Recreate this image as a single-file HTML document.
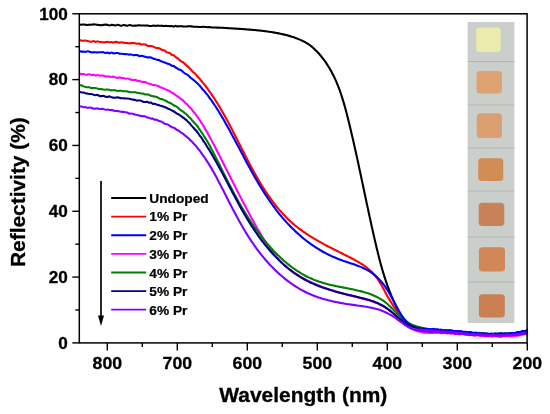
<!DOCTYPE html>
<html><head><meta charset="utf-8"><style>
html,body{margin:0;padding:0;background:#fff;}
body{width:550px;height:414px;overflow:hidden;}
svg{display:block;font-family:"Liberation Sans",sans-serif;font-weight:bold;filter:blur(0.3px);}
</style></head><body>
<svg width="550" height="414" viewBox="0 0 550 414">
<rect width="550" height="414" fill="#fff"/>
<g><rect x="467.6" y="22" width="46.8" height="301" fill="#cacfcc"/>
<line x1="467.6" y1="61.5" x2="514.4" y2="61.5" stroke="#b2b7b4" stroke-width="1"/>
<line x1="467.6" y1="105.0" x2="514.4" y2="105.0" stroke="#b2b7b4" stroke-width="1"/>
<line x1="467.6" y1="148.0" x2="514.4" y2="148.0" stroke="#b2b7b4" stroke-width="1"/>
<line x1="467.6" y1="191.0" x2="514.4" y2="191.0" stroke="#b2b7b4" stroke-width="1"/>
<line x1="467.6" y1="237.0" x2="514.4" y2="237.0" stroke="#b2b7b4" stroke-width="1"/>
<line x1="467.6" y1="282.0" x2="514.4" y2="282.0" stroke="#b2b7b4" stroke-width="1"/>
<rect x="476.2" y="27.4" width="24.6" height="24.6" rx="3.5" fill="#eaebac"/>
<rect x="476.6" y="71.0" width="25.3" height="22.5" rx="3.5" fill="#dea271"/>
<rect x="476.8" y="113.3" width="25.2" height="24.7" rx="3.5" fill="#dca070"/>
<rect x="478.2" y="158.2" width="25.1" height="22.7" rx="3.5" fill="#d28c55"/>
<rect x="478.7" y="202.7" width="25.6" height="23.2" rx="3.5" fill="#c98257"/>
<rect x="478.9" y="247.2" width="26.1" height="24.2" rx="3.5" fill="#d08858"/>
<rect x="478.9" y="294.2" width="25.9" height="23.2" rx="3.5" fill="#c97f52"/></g>
<defs><clipPath id="pc"><rect x="79" y="10" width="448.9" height="332"/></clipPath></defs>
<g fill="none" stroke-width="2.1" stroke-linejoin="round" stroke-linecap="round" clip-path="url(#pc)"><path d="M79.47,24.37 C79.81,24.42 80.81,24.67 81.47,24.68 C82.14,24.69 82.81,24.42 83.48,24.43 C84.14,24.44 84.81,24.64 85.48,24.74 C86.15,24.84 86.81,25.04 87.48,25.03 C88.15,25.02 88.82,24.74 89.48,24.68 C90.15,24.63 90.82,24.75 91.49,24.70 C92.15,24.65 92.82,24.38 93.49,24.36 C94.16,24.34 94.82,24.51 95.49,24.58 C96.16,24.66 96.83,24.76 97.49,24.84 C98.16,24.91 98.83,24.98 99.50,25.04 C100.16,25.10 100.83,25.23 101.50,25.20 C102.17,25.17 102.83,24.95 103.50,24.86 C104.17,24.76 104.84,24.61 105.50,24.61 C106.17,24.61 106.84,24.71 107.51,24.85 C108.17,24.99 108.84,25.45 109.51,25.45 C110.18,25.45 110.84,24.91 111.51,24.86 C112.18,24.80 112.85,24.99 113.51,25.10 C114.18,25.22 114.85,25.62 115.52,25.57 C116.18,25.52 116.85,24.83 117.52,24.79 C118.19,24.75 118.86,25.19 119.52,25.34 C120.19,25.49 120.86,25.73 121.53,25.68 C122.19,25.64 122.86,25.12 123.53,25.07 C124.20,25.02 124.86,25.27 125.53,25.38 C126.20,25.49 126.87,25.79 127.53,25.74 C128.20,25.68 128.87,25.12 129.54,25.07 C130.20,25.02 130.87,25.35 131.54,25.45 C132.21,25.55 132.87,25.65 133.54,25.68 C134.21,25.71 134.88,25.67 135.55,25.64 C136.21,25.60 136.88,25.54 137.55,25.48 C138.22,25.42 138.88,25.26 139.55,25.28 C140.22,25.29 140.89,25.53 141.55,25.56 C142.22,25.60 142.89,25.48 143.56,25.48 C144.22,25.49 144.89,25.60 145.56,25.61 C146.23,25.62 146.89,25.47 147.56,25.54 C148.23,25.60 148.90,25.92 149.56,25.99 C150.23,26.06 150.90,26.03 151.57,25.96 C152.24,25.89 152.90,25.60 153.57,25.58 C154.24,25.57 154.91,25.84 155.57,25.85 C156.24,25.85 156.91,25.62 157.58,25.62 C158.24,25.61 158.91,25.79 159.58,25.81 C160.25,25.83 160.91,25.71 161.58,25.75 C162.25,25.80 162.92,26.05 163.58,26.06 C164.25,26.08 164.92,25.86 165.59,25.84 C166.25,25.83 166.92,25.90 167.59,25.96 C168.26,26.03 168.92,26.23 169.59,26.23 C170.26,26.24 170.93,25.96 171.59,26.00 C172.26,26.04 172.93,26.48 173.60,26.46 C174.26,26.45 174.93,25.91 175.60,25.90 C176.27,25.89 176.93,26.35 177.60,26.40 C178.27,26.45 178.94,26.22 179.60,26.20 C180.27,26.17 180.94,26.21 181.61,26.25 C182.27,26.30 182.94,26.42 183.61,26.45 C184.28,26.48 184.94,26.43 185.61,26.43 C186.28,26.42 186.95,26.45 187.61,26.41 C188.28,26.38 188.95,26.23 189.62,26.22 C190.28,26.21 190.95,26.26 191.62,26.35 C192.29,26.44 192.95,26.70 193.62,26.76 C194.29,26.82 194.96,26.70 195.62,26.72 C196.29,26.74 196.96,26.82 197.62,26.87 C198.29,26.93 198.96,27.03 199.63,27.05 C200.29,27.07 200.96,27.03 201.63,26.99 C202.30,26.95 202.96,26.81 203.63,26.81 C204.30,26.81 204.96,26.94 205.63,27.00 C206.30,27.06 206.97,27.15 207.63,27.18 C208.30,27.20 208.97,27.11 209.63,27.15 C210.30,27.19 210.97,27.38 211.64,27.45 C212.30,27.51 212.97,27.49 213.64,27.52 C214.30,27.54 214.97,27.56 215.64,27.57 C216.30,27.59 216.97,27.56 217.64,27.59 C218.30,27.62 218.97,27.72 219.64,27.75 C220.31,27.77 220.97,27.73 221.64,27.75 C222.31,27.77 222.97,27.84 223.64,27.88 C224.31,27.93 224.97,27.97 225.64,28.01 C226.31,28.05 226.97,28.09 227.64,28.13 C228.31,28.17 228.97,28.20 229.64,28.24 C230.30,28.28 230.97,28.32 231.64,28.36 C232.30,28.40 232.97,28.45 233.64,28.49 C234.30,28.53 234.97,28.57 235.64,28.62 C236.30,28.66 236.97,28.70 237.63,28.75 C238.30,28.79 238.97,28.84 239.63,28.89 C240.30,28.93 240.96,28.98 241.63,29.03 C242.30,29.07 242.96,29.12 243.63,29.17 C244.29,29.22 244.96,29.27 245.63,29.32 C246.29,29.37 246.96,29.42 247.62,29.48 C248.29,29.53 248.95,29.58 249.62,29.64 C250.29,29.69 250.95,29.74 251.62,29.80 C252.28,29.86 252.95,29.91 253.61,29.97 C254.28,30.03 254.94,30.09 255.61,30.15 C256.27,30.21 256.94,30.28 257.60,30.34 C258.27,30.41 258.93,30.47 259.59,30.54 C260.26,30.61 260.92,30.68 261.59,30.76 C262.25,30.83 262.91,30.91 263.58,30.99 C264.24,31.06 264.90,31.15 265.56,31.23 C266.23,31.31 266.89,31.40 267.55,31.49 C268.21,31.58 268.87,31.67 269.53,31.77 C270.19,31.87 270.85,31.97 271.51,32.07 C272.17,32.17 272.83,32.28 273.49,32.39 C274.15,32.50 274.81,32.61 275.46,32.73 C276.12,32.85 276.78,32.97 277.43,33.10 C278.09,33.22 278.74,33.36 279.40,33.49 C280.05,33.63 280.70,33.77 281.36,33.91 C282.01,34.05 282.66,34.20 283.31,34.36 C283.96,34.51 284.61,34.67 285.25,34.84 C285.90,35.00 286.55,35.17 287.19,35.34 C287.84,35.52 288.48,35.70 289.12,35.88 C289.76,36.07 290.40,36.26 291.04,36.46 C291.68,36.66 292.31,36.86 292.95,37.07 C293.58,37.28 294.21,37.49 294.84,37.71 C295.47,37.93 296.10,38.16 296.73,38.39 C297.35,38.63 297.97,38.87 298.59,39.12 C299.21,39.37 299.83,39.62 300.44,39.89 C301.05,40.16 301.66,40.43 302.26,40.72 C302.87,41.01 303.47,41.31 304.06,41.61 C304.65,41.92 305.24,42.24 305.81,42.58 C306.39,42.91 306.97,43.25 307.53,43.61 C308.09,43.97 308.65,44.34 309.19,44.73 C309.74,45.11 310.27,45.51 310.80,45.92 C311.32,46.33 311.84,46.76 312.35,47.19 C312.86,47.62 313.36,48.07 313.85,48.52 C314.34,48.97 314.83,49.43 315.30,49.90 C315.78,50.36 316.25,50.84 316.72,51.31 C317.18,51.79 317.64,52.28 318.09,52.77 C318.55,53.26 319.00,53.75 319.44,54.26 C319.88,54.76 320.31,55.26 320.74,55.77 C321.17,56.29 321.59,56.80 322.01,57.32 C322.43,57.84 322.84,58.37 323.25,58.90 C323.65,59.43 324.05,59.97 324.44,60.51 C324.84,61.05 325.22,61.59 325.60,62.14 C325.99,62.69 326.36,63.24 326.73,63.80 C327.10,64.35 327.46,64.91 327.82,65.48 C328.18,66.04 328.53,66.61 328.88,67.18 C329.22,67.75 329.56,68.32 329.90,68.90 C330.23,69.48 330.56,70.06 330.89,70.64 C331.21,71.23 331.53,71.81 331.84,72.40 C332.16,72.99 332.47,73.58 332.77,74.18 C333.07,74.77 333.37,75.37 333.66,75.97 C333.96,76.57 334.24,77.17 334.53,77.78 C334.81,78.38 335.09,78.99 335.36,79.60 C335.64,80.21 335.91,80.82 336.17,81.43 C336.44,82.04 336.70,82.66 336.96,83.27 C337.21,83.89 337.46,84.51 337.71,85.13 C337.96,85.75 338.20,86.37 338.44,86.99 C338.68,87.62 338.92,88.24 339.15,88.87 C339.39,89.49 339.61,90.12 339.84,90.75 C340.07,91.38 340.29,92.01 340.51,92.64 C340.73,93.27 340.94,93.90 341.15,94.53 C341.36,95.17 341.57,95.80 341.78,96.44 C341.99,97.07 342.19,97.71 342.39,98.34 C342.59,98.98 342.79,99.62 342.98,100.26 C343.18,100.90 343.37,101.53 343.56,102.17 C343.75,102.81 343.94,103.46 344.12,104.10 C344.31,104.74 344.49,105.38 344.67,106.02 C344.85,106.67 345.03,107.31 345.21,107.95 C345.39,108.60 345.56,109.24 345.73,109.89 C345.91,110.53 346.08,111.18 346.25,111.82 C346.42,112.47 346.59,113.11 346.76,113.76 C346.92,114.41 347.09,115.05 347.25,115.70 C347.42,116.35 347.58,116.99 347.74,117.64 C347.91,118.29 348.07,118.94 348.23,119.59 C348.39,120.23 348.55,120.88 348.71,121.53 C348.87,122.18 349.02,122.83 349.18,123.48 C349.34,124.13 349.50,124.77 349.65,125.42 C349.81,126.07 349.96,126.72 350.12,127.37 C350.28,128.02 350.43,128.67 350.58,129.32 C350.74,129.97 350.89,130.62 351.05,131.27 C351.20,131.92 351.35,132.57 351.50,133.22 C351.66,133.87 351.81,134.52 351.96,135.17 C352.11,135.82 352.26,136.47 352.41,137.12 C352.56,137.77 352.71,138.42 352.86,139.07 C353.01,139.72 353.16,140.37 353.31,141.02 C353.46,141.68 353.61,142.33 353.75,142.98 C353.90,143.63 354.05,144.28 354.20,144.93 C354.34,145.58 354.49,146.23 354.63,146.89 C354.78,147.54 354.93,148.19 355.07,148.84 C355.22,149.49 355.36,150.14 355.51,150.80 C355.65,151.45 355.80,152.10 355.94,152.75 C356.08,153.40 356.23,154.06 356.37,154.71 C356.52,155.36 356.66,156.01 356.80,156.66 C356.94,157.32 357.09,157.97 357.23,158.62 C357.37,159.27 357.51,159.93 357.65,160.58 C357.80,161.23 357.94,161.88 358.08,162.54 C358.22,163.19 358.36,163.84 358.50,164.49 C358.64,165.15 358.78,165.80 358.92,166.45 C359.06,167.10 359.20,167.76 359.34,168.41 C359.48,169.06 359.62,169.72 359.76,170.37 C359.90,171.02 360.04,171.67 360.18,172.33 C360.32,172.98 360.46,173.63 360.60,174.29 C360.74,174.94 360.88,175.59 361.02,176.25 C361.15,176.90 361.29,177.55 361.43,178.20 C361.57,178.86 361.71,179.51 361.85,180.16 C361.98,180.82 362.12,181.47 362.26,182.12 C362.40,182.78 362.54,183.43 362.68,184.08 C362.81,184.74 362.95,185.39 363.09,186.04 C363.23,186.70 363.37,187.35 363.50,188.00 C363.64,188.66 363.78,189.31 363.92,189.96 C364.05,190.62 364.19,191.27 364.33,191.92 C364.47,192.58 364.61,193.23 364.74,193.88 C364.88,194.54 365.02,195.19 365.16,195.84 C365.30,196.50 365.44,197.15 365.57,197.80 C365.71,198.46 365.85,199.11 365.99,199.76 C366.13,200.41 366.27,201.07 366.40,201.72 C366.54,202.37 366.68,203.03 366.82,203.68 C366.96,204.33 367.10,204.99 367.24,205.64 C367.38,206.29 367.52,206.95 367.66,207.60 C367.80,208.25 367.94,208.90 368.08,209.56 C368.22,210.21 368.36,210.86 368.50,211.52 C368.64,212.17 368.78,212.82 368.92,213.47 C369.06,214.13 369.20,214.78 369.34,215.43 C369.48,216.08 369.62,216.74 369.76,217.39 C369.91,218.04 370.05,218.69 370.19,219.35 C370.33,220.00 370.48,220.65 370.62,221.30 C370.76,221.96 370.90,222.61 371.05,223.26 C371.19,223.91 371.34,224.56 371.48,225.22 C371.62,225.87 371.77,226.52 371.91,227.17 C372.06,227.82 372.20,228.47 372.35,229.13 C372.49,229.78 372.64,230.43 372.79,231.08 C372.93,231.73 373.08,232.38 373.23,233.03 C373.37,233.69 373.52,234.34 373.67,234.99 C373.82,235.64 373.96,236.29 374.11,236.94 C374.26,237.59 374.41,238.24 374.56,238.89 C374.71,239.54 374.86,240.19 375.01,240.85 C375.16,241.50 375.31,242.15 375.47,242.80 C375.62,243.45 375.77,244.10 375.92,244.75 C376.07,245.40 376.23,246.05 376.38,246.70 C376.54,247.35 376.69,248.00 376.85,248.64 C377.00,249.29 377.16,249.94 377.31,250.59 C377.47,251.24 377.63,251.89 377.79,252.54 C377.95,253.19 378.10,253.84 378.27,254.48 C378.43,255.13 378.59,255.78 378.75,256.43 C378.91,257.07 379.08,257.72 379.24,258.37 C379.41,259.02 379.58,259.66 379.75,260.31 C379.91,260.95 380.08,261.60 380.26,262.24 C380.43,262.89 380.60,263.53 380.77,264.18 C380.95,264.82 381.13,265.47 381.30,266.11 C381.48,266.75 381.66,267.40 381.84,268.04 C382.03,268.68 382.21,269.32 382.40,269.97 C382.58,270.61 382.77,271.25 382.96,271.89 C383.15,272.53 383.34,273.17 383.54,273.81 C383.73,274.44 383.93,275.08 384.13,275.72 C384.33,276.36 384.53,276.99 384.73,277.63 C384.93,278.27 385.14,278.90 385.35,279.53 C385.56,280.17 385.77,280.80 385.98,281.43 C386.20,282.07 386.41,282.70 386.63,283.33 C386.85,283.96 387.08,284.59 387.30,285.22 C387.53,285.85 387.75,286.47 387.98,287.10 C388.22,287.73 388.45,288.35 388.69,288.98 C388.92,289.60 389.16,290.22 389.40,290.85 C389.65,291.47 389.89,292.09 390.14,292.71 C390.39,293.33 390.64,293.95 390.90,294.56 C391.16,295.18 391.41,295.80 391.68,296.41 C391.94,297.02 392.20,297.64 392.47,298.25 C392.74,298.86 393.01,299.47 393.29,300.08 C393.56,300.68 393.84,301.29 394.13,301.90 C394.41,302.50 394.70,303.10 394.98,303.71 C395.27,304.31 395.57,304.91 395.86,305.51 C396.16,306.10 396.46,306.70 396.77,307.29 C397.07,307.89 397.38,308.48 397.69,309.07 C398.01,309.66 398.33,310.25 398.65,310.83 C398.98,311.41 399.31,311.99 399.65,312.56 C400.00,313.14 400.35,313.71 400.71,314.27 C401.07,314.83 401.43,315.39 401.82,315.93 C402.20,316.48 402.59,317.02 403.00,317.55 C403.40,318.08 403.82,318.60 404.25,319.11 C404.68,319.62 405.13,320.12 405.59,320.60 C406.06,321.08 406.53,321.55 407.03,322.00 C407.52,322.44 408.04,322.87 408.56,323.28 C409.09,323.69 409.63,324.08 410.19,324.45 C410.75,324.81 411.32,325.16 411.91,325.48 C412.49,325.80 413.09,326.09 413.70,326.36 C414.31,326.63 414.94,326.88 415.57,327.10 C416.19,327.33 416.83,327.53 417.47,327.71 C418.12,327.89 418.76,328.05 419.42,328.20 C420.07,328.35 420.72,328.48 421.38,328.59 C422.04,328.71 422.70,328.81 423.36,328.91 C424.02,329.00 424.68,329.08 425.35,329.15 C426.01,329.23 426.67,329.29 427.34,329.35 C428.00,329.41 428.67,329.49 429.34,329.50 C430.00,329.51 430.67,329.32 431.34,329.40 C432.00,329.47 432.67,329.91 433.33,329.94 C434.00,329.98 434.67,329.55 435.33,329.61 C436.00,329.67 436.67,330.22 437.33,330.30 C438.00,330.39 438.67,330.19 439.33,330.13 C440.00,330.06 440.67,329.83 441.33,329.92 C442.00,330.01 442.66,330.60 443.33,330.68 C444.00,330.77 444.66,330.41 445.33,330.43 C445.99,330.46 446.66,330.78 447.32,330.85 C447.99,330.93 448.65,330.89 449.32,330.87 C449.99,330.86 450.65,330.73 451.32,330.74 C451.98,330.75 452.65,330.86 453.31,330.93 C453.98,330.99 454.64,331.07 455.31,331.14 C455.97,331.20 456.64,331.28 457.30,331.33 C457.97,331.38 458.63,331.39 459.30,331.44 C459.96,331.48 460.62,331.45 461.29,331.62 C461.95,331.78 462.62,332.36 463.28,332.43 C463.95,332.50 464.61,332.00 465.28,332.01 C465.94,332.02 466.61,332.42 467.27,332.49 C467.94,332.55 468.60,332.37 469.27,332.39 C469.93,332.41 470.60,332.50 471.26,332.63 C471.93,332.76 472.60,333.04 473.26,333.18 C473.93,333.32 474.59,333.44 475.26,333.46 C475.92,333.48 476.59,333.34 477.25,333.28 C477.92,333.22 478.59,332.99 479.25,333.10 C479.92,333.21 480.59,333.88 481.25,333.93 C481.92,333.98 482.58,333.42 483.25,333.39 C483.92,333.36 484.58,333.64 485.25,333.74 C485.92,333.83 486.58,333.85 487.25,333.94 C487.92,334.03 488.59,334.21 489.25,334.27 C489.92,334.33 490.59,334.30 491.25,334.29 C491.92,334.28 492.59,334.23 493.26,334.19 C493.92,334.16 494.59,334.04 495.26,334.08 C495.93,334.11 496.59,334.34 497.26,334.40 C497.93,334.46 498.60,334.42 499.27,334.42 C499.93,334.42 500.60,334.43 501.27,334.40 C501.94,334.37 502.60,334.36 503.27,334.25 C503.94,334.14 504.61,333.82 505.27,333.75 C505.94,333.67 506.61,333.78 507.27,333.80 C507.94,333.81 508.61,333.83 509.27,333.81 C509.94,333.79 510.61,333.70 511.27,333.69 C511.94,333.68 512.60,333.84 513.27,333.75 C513.93,333.66 514.60,333.23 515.26,333.14 C515.93,333.05 516.59,333.28 517.25,333.22 C517.92,333.16 518.58,332.84 519.24,332.77 C519.90,332.70 520.56,332.89 521.22,332.78 C521.88,332.66 522.54,332.21 523.20,332.06 C523.86,331.92 524.52,332.05 525.18,331.92 C525.84,331.80 526.82,331.40 527.15,331.30" stroke="#000000"/>
<path d="M79.78,73.69 C80.11,73.80 81.11,74.26 81.77,74.30 C82.44,74.35 83.10,73.89 83.77,73.96 C84.43,74.02 85.10,74.58 85.76,74.68 C86.43,74.77 87.09,74.60 87.76,74.54 C88.42,74.47 89.09,74.19 89.75,74.29 C90.42,74.39 91.08,75.09 91.75,75.15 C92.41,75.22 93.08,74.60 93.75,74.67 C94.41,74.73 95.08,75.49 95.74,75.55 C96.41,75.60 97.07,74.95 97.74,74.99 C98.41,75.03 99.07,75.69 99.74,75.77 C100.40,75.86 101.07,75.49 101.73,75.50 C102.40,75.51 103.06,75.66 103.73,75.85 C104.39,76.03 105.06,76.50 105.72,76.59 C106.39,76.67 107.06,76.34 107.72,76.36 C108.39,76.39 109.05,76.61 109.71,76.72 C110.38,76.83 111.04,77.02 111.71,77.01 C112.37,77.00 113.04,76.57 113.70,76.66 C114.37,76.75 115.03,77.34 115.69,77.54 C116.36,77.74 117.02,77.87 117.68,77.85 C118.35,77.83 119.01,77.39 119.67,77.42 C120.34,77.44 121.00,77.92 121.66,78.03 C122.32,78.14 122.99,77.94 123.65,78.07 C124.31,78.19 124.97,78.70 125.63,78.76 C126.29,78.82 126.95,78.36 127.61,78.43 C128.27,78.49 128.93,78.96 129.59,79.18 C130.25,79.40 130.91,79.62 131.57,79.77 C132.23,79.91 132.89,80.05 133.54,80.07 C134.20,80.08 134.86,79.73 135.52,79.87 C136.17,80.01 136.83,80.76 137.48,80.92 C138.14,81.07 138.79,80.66 139.44,80.79 C140.10,80.93 140.75,81.55 141.40,81.74 C142.05,81.93 142.70,81.86 143.35,81.92 C144.00,81.98 144.65,81.90 145.30,82.10 C145.95,82.30 146.59,82.85 147.24,83.12 C147.88,83.39 148.53,83.54 149.17,83.72 C149.81,83.90 150.46,83.97 151.10,84.18 C151.74,84.40 152.38,84.88 153.01,85.02 C153.65,85.15 154.28,84.90 154.92,85.00 C155.55,85.10 156.18,85.43 156.81,85.64 C157.44,85.85 158.07,85.97 158.70,86.25 C159.32,86.53 159.94,87.04 160.57,87.32 C161.19,87.61 161.80,87.73 162.42,87.96 C163.04,88.19 163.65,88.44 164.26,88.72 C164.87,89.00 165.48,89.38 166.08,89.65 C166.68,89.92 167.29,90.13 167.88,90.36 C168.48,90.59 169.07,90.69 169.66,91.04 C170.25,91.38 170.84,92.05 171.42,92.42 C172.00,92.80 172.58,92.93 173.15,93.27 C173.73,93.61 174.30,94.02 174.86,94.47 C175.42,94.92 175.98,95.62 176.54,95.96 C177.09,96.30 177.64,96.16 178.18,96.51 C178.72,96.86 179.26,97.59 179.79,98.06 C180.32,98.53 180.84,98.93 181.36,99.31 C181.88,99.69 182.39,99.92 182.90,100.34 C183.40,100.75 183.90,101.27 184.40,101.80 C184.89,102.33 185.38,103.05 185.86,103.50 C186.34,103.95 186.81,104.06 187.28,104.50 C187.75,104.95 188.22,105.64 188.68,106.18 C189.13,106.71 189.59,107.26 190.03,107.72 C190.48,108.19 190.92,108.43 191.36,108.95 C191.79,109.46 192.22,110.29 192.65,110.83 C193.07,111.37 193.49,111.71 193.91,112.19 C194.33,112.66 194.74,113.16 195.14,113.70 C195.55,114.24 195.95,114.88 196.34,115.41 C196.74,115.95 197.13,116.35 197.52,116.89 C197.91,117.44 198.29,118.13 198.67,118.67 C199.05,119.21 199.42,119.56 199.80,120.13 C200.17,120.70 200.53,121.51 200.90,122.09 C201.26,122.67 201.62,123.10 201.98,123.61 C202.34,124.13 202.69,124.63 203.04,125.19 C203.39,125.75 203.74,126.37 204.08,126.98 C204.43,127.60 204.77,128.28 205.11,128.88 C205.45,129.48 205.78,130.02 206.12,130.57 C206.45,131.13 206.78,131.64 207.11,132.20 C207.44,132.75 207.77,133.33 208.09,133.91 C208.42,134.48 208.74,135.05 209.06,135.67 C209.38,136.29 209.70,137.04 210.02,137.61 C210.34,138.19 210.65,138.54 210.97,139.13 C211.28,139.71 211.59,140.49 211.91,141.11 C212.22,141.74 212.53,142.31 212.84,142.87 C213.15,143.44 213.46,143.92 213.77,144.49 C214.08,145.06 214.39,145.70 214.69,146.30 C215.00,146.91 215.31,147.52 215.61,148.13 C215.92,148.74 216.23,149.36 216.53,149.96 C216.84,150.57 217.14,151.17 217.45,151.77 C217.75,152.37 218.06,152.98 218.36,153.56 C218.67,154.13 218.97,154.65 219.27,155.22 C219.58,155.79 219.88,156.40 220.18,157.00 C220.49,157.60 220.79,158.22 221.09,158.83 C221.40,159.43 221.70,160.03 222.00,160.62 C222.30,161.22 222.60,161.83 222.91,162.42 C223.21,163.01 223.51,163.56 223.81,164.16 C224.11,164.75 224.41,165.39 224.71,166.00 C225.01,166.60 225.32,167.21 225.62,167.80 C225.92,168.40 226.22,168.99 226.52,169.59 C226.82,170.18 227.12,170.78 227.42,171.37 C227.72,171.97 228.02,172.56 228.32,173.16 C228.62,173.75 228.92,174.35 229.22,174.94 C229.52,175.54 229.82,176.13 230.12,176.73 C230.43,177.33 230.73,177.92 231.03,178.52 C231.33,179.12 231.63,179.71 231.93,180.31 C232.23,180.91 232.53,181.50 232.83,182.10 C233.13,182.70 233.44,183.29 233.74,183.89 C234.04,184.49 234.34,185.08 234.64,185.68 C234.94,186.28 235.25,186.87 235.55,187.47 C235.85,188.06 236.15,188.66 236.46,189.25 C236.76,189.85 237.06,190.45 237.37,191.04 C237.67,191.64 237.98,192.23 238.28,192.83 C238.58,193.42 238.89,194.02 239.19,194.61 C239.50,195.21 239.81,195.80 240.11,196.39 C240.42,196.99 240.72,197.58 241.03,198.18 C241.34,198.77 241.64,199.36 241.95,199.96 C242.26,200.55 242.57,201.14 242.88,201.74 C243.19,202.33 243.50,202.92 243.81,203.51 C244.11,204.11 244.43,204.70 244.74,205.29 C245.05,205.88 245.36,206.47 245.67,207.06 C245.98,207.65 246.30,208.24 246.61,208.83 C246.92,209.42 247.24,210.01 247.55,210.60 C247.87,211.19 248.18,211.78 248.50,212.37 C248.81,212.96 249.13,213.55 249.45,214.14 C249.77,214.73 250.08,215.31 250.40,215.90 C250.72,216.49 251.04,217.07 251.36,217.66 C251.68,218.25 252.00,218.83 252.33,219.42 C252.65,220.00 252.97,220.59 253.29,221.17 C253.62,221.76 253.94,222.34 254.27,222.93 C254.59,223.51 254.92,224.09 255.25,224.68 C255.57,225.26 255.90,225.84 256.23,226.42 C256.56,227.01 256.89,227.59 257.22,228.17 C257.55,228.75 257.88,229.33 258.22,229.91 C258.55,230.49 258.88,231.07 259.22,231.64 C259.55,232.22 259.89,232.80 260.23,233.38 C260.57,233.95 260.91,234.53 261.25,235.10 C261.59,235.68 261.93,236.25 262.28,236.82 C262.62,237.40 262.97,237.97 263.32,238.54 C263.67,239.11 264.02,239.67 264.38,240.24 C264.73,240.81 265.09,241.37 265.45,241.93 C265.81,242.50 266.17,243.06 266.54,243.62 C266.91,244.17 267.28,244.73 267.65,245.29 C268.02,245.84 268.40,246.39 268.78,246.94 C269.16,247.49 269.55,248.04 269.93,248.58 C270.32,249.13 270.71,249.67 271.11,250.21 C271.51,250.74 271.91,251.28 272.31,251.81 C272.71,252.34 273.12,252.87 273.54,253.40 C273.95,253.92 274.37,254.44 274.79,254.96 C275.22,255.48 275.64,255.99 276.08,256.50 C276.51,257.01 276.95,257.51 277.39,258.01 C277.83,258.51 278.28,259.01 278.74,259.50 C279.19,259.99 279.65,260.48 280.12,260.96 C280.58,261.44 281.05,261.91 281.53,262.38 C282.01,262.85 282.49,263.31 282.98,263.77 C283.46,264.22 283.96,264.68 284.45,265.12 C284.95,265.57 285.46,266.00 285.97,266.44 C286.47,266.87 286.99,267.30 287.51,267.72 C288.02,268.14 288.55,268.56 289.07,268.97 C289.60,269.38 290.13,269.79 290.67,270.19 C291.20,270.59 291.74,270.98 292.29,271.37 C292.83,271.76 293.38,272.14 293.93,272.52 C294.48,272.90 295.04,273.27 295.60,273.64 C296.15,274.00 296.72,274.36 297.28,274.72 C297.85,275.08 298.41,275.43 298.99,275.78 C299.56,276.12 300.13,276.47 300.71,276.80 C301.29,277.14 301.87,277.47 302.45,277.80 C303.03,278.13 303.62,278.45 304.20,278.77 C304.79,279.09 305.38,279.40 305.97,279.71 C306.57,280.02 307.16,280.32 307.76,280.62 C308.36,280.92 308.96,281.22 309.56,281.51 C310.16,281.80 310.76,282.09 311.37,282.37 C311.97,282.65 312.58,282.93 313.19,283.21 C313.80,283.48 314.41,283.75 315.02,284.02 C315.64,284.28 316.25,284.55 316.87,284.81 C317.48,285.07 318.10,285.32 318.72,285.57 C319.34,285.82 319.96,286.07 320.58,286.32 C321.20,286.56 321.83,286.80 322.45,287.04 C323.08,287.28 323.70,287.51 324.33,287.74 C324.96,287.97 325.59,288.20 326.22,288.42 C326.85,288.65 327.48,288.87 328.11,289.08 C328.74,289.30 329.37,289.52 330.01,289.73 C330.64,289.94 331.28,290.15 331.91,290.35 C332.55,290.56 333.19,290.76 333.82,290.96 C334.46,291.16 335.10,291.36 335.74,291.55 C336.38,291.74 337.02,291.94 337.66,292.13 C338.30,292.31 338.94,292.50 339.59,292.69 C340.23,292.87 340.87,293.05 341.51,293.23 C342.16,293.41 342.80,293.59 343.45,293.77 C344.09,293.94 344.74,294.12 345.38,294.29 C346.03,294.46 346.67,294.63 347.32,294.80 C347.97,294.97 348.61,295.14 349.26,295.30 C349.91,295.47 350.56,295.63 351.21,295.79 C351.85,295.96 352.50,296.12 353.15,296.28 C353.80,296.44 354.45,296.60 355.10,296.76 C355.75,296.92 356.40,297.07 357.05,297.23 C357.70,297.39 358.34,297.55 358.99,297.71 C359.64,297.87 360.29,298.03 360.94,298.20 C361.59,298.36 362.23,298.52 362.88,298.69 C363.53,298.86 364.17,299.03 364.82,299.20 C365.47,299.38 366.11,299.56 366.75,299.74 C367.40,299.92 368.04,300.10 368.68,300.30 C369.32,300.49 369.96,300.68 370.60,300.88 C371.23,301.08 371.87,301.29 372.50,301.51 C373.13,301.72 373.77,301.94 374.39,302.17 C375.02,302.40 375.65,302.63 376.27,302.87 C376.89,303.12 377.51,303.37 378.13,303.63 C378.74,303.89 379.36,304.16 379.96,304.44 C380.57,304.72 381.17,305.00 381.77,305.30 C382.37,305.60 382.96,305.91 383.55,306.23 C384.13,306.55 384.71,306.88 385.29,307.23 C385.86,307.57 386.43,307.93 386.99,308.29 C387.55,308.65 388.10,309.03 388.65,309.41 C389.19,309.80 389.73,310.19 390.27,310.59 C390.80,311.00 391.33,311.41 391.85,311.82 C392.38,312.24 392.89,312.66 393.41,313.09 C393.92,313.52 394.42,313.96 394.93,314.40 C395.43,314.84 395.93,315.28 396.42,315.73 C396.92,316.18 397.41,316.64 397.89,317.09 C398.38,317.55 398.87,318.01 399.35,318.48 C399.83,318.94 400.31,319.41 400.79,319.87 C401.26,320.34 401.74,320.81 402.22,321.28 C402.70,321.74 403.18,322.21 403.67,322.66 C404.15,323.12 404.65,323.57 405.15,324.01 C405.65,324.45 406.16,324.88 406.69,325.30 C407.21,325.71 407.75,326.11 408.30,326.49 C408.84,326.88 409.40,327.24 409.97,327.60 C410.54,327.95 411.12,328.28 411.71,328.60 C412.30,328.91 412.89,329.21 413.50,329.50 C414.11,329.78 414.72,330.04 415.34,330.29 C415.96,330.53 416.59,330.76 417.23,330.97 C417.86,331.18 418.50,331.37 419.15,331.54 C419.79,331.72 420.44,331.87 421.10,332.01 C421.75,332.14 422.41,332.26 423.07,332.36 C423.73,332.46 424.40,332.54 425.06,332.61 C425.72,332.68 426.39,332.73 427.06,332.77 C427.73,332.80 428.39,332.84 429.06,332.85 C429.73,332.86 430.40,332.83 431.07,332.84 C431.74,332.85 432.40,332.93 433.07,332.91 C433.74,332.90 434.41,332.76 435.08,332.75 C435.74,332.75 436.41,332.88 437.08,332.88 C437.75,332.88 438.42,332.68 439.09,332.74 C439.75,332.79 440.42,333.13 441.09,333.19 C441.76,333.25 442.43,333.11 443.09,333.08 C443.76,333.05 444.43,332.96 445.10,333.01 C445.76,333.05 446.43,333.30 447.10,333.34 C447.77,333.38 448.43,333.24 449.10,333.25 C449.77,333.26 450.44,333.40 451.10,333.43 C451.77,333.46 452.44,333.34 453.10,333.44 C453.77,333.54 454.44,333.97 455.10,334.03 C455.77,334.09 456.44,333.75 457.10,333.82 C457.77,333.89 458.44,334.37 459.10,334.44 C459.77,334.50 460.44,334.25 461.10,334.20 C461.77,334.16 462.44,334.09 463.10,334.18 C463.77,334.27 464.43,334.60 465.10,334.72 C465.77,334.84 466.43,334.83 467.10,334.90 C467.77,334.97 468.43,335.18 469.10,335.16 C469.76,335.14 470.43,334.75 471.10,334.79 C471.76,334.84 472.43,335.27 473.10,335.41 C473.76,335.55 474.43,335.62 475.10,335.61 C475.76,335.61 476.43,335.37 477.09,335.38 C477.76,335.38 478.43,335.54 479.09,335.63 C479.76,335.71 480.43,335.86 481.09,335.88 C481.76,335.91 482.43,335.68 483.09,335.76 C483.76,335.83 484.43,336.23 485.10,336.32 C485.76,336.41 486.43,336.28 487.10,336.32 C487.76,336.35 488.43,336.53 489.10,336.53 C489.77,336.54 490.43,336.35 491.10,336.34 C491.77,336.33 492.44,336.47 493.11,336.47 C493.77,336.46 494.44,336.31 495.11,336.30 C495.78,336.29 496.45,336.35 497.11,336.43 C497.78,336.50 498.45,336.66 499.12,336.74 C499.79,336.82 500.46,336.98 501.12,336.90 C501.79,336.83 502.46,336.44 503.13,336.32 C503.80,336.20 504.47,336.23 505.13,336.20 C505.80,336.17 506.47,336.12 507.14,336.14 C507.80,336.16 508.47,336.25 509.14,336.30 C509.81,336.34 510.47,336.49 511.14,336.42 C511.81,336.34 512.47,335.95 513.14,335.86 C513.80,335.76 514.47,335.87 515.13,335.84 C515.80,335.80 516.46,335.67 517.13,335.63 C517.79,335.59 518.45,335.72 519.11,335.59 C519.77,335.45 520.43,335.01 521.09,334.81 C521.75,334.60 522.41,334.44 523.07,334.35 C523.72,334.27 524.38,334.40 525.03,334.31 C525.69,334.21 526.67,333.86 526.99,333.77" stroke="#ff00ff"/>
<path d="M79.53,40.06 C79.86,40.15 80.85,40.48 81.52,40.59 C82.18,40.71 82.84,40.79 83.50,40.77 C84.17,40.75 84.83,40.40 85.50,40.45 C86.16,40.51 86.82,40.90 87.49,41.07 C88.15,41.24 88.82,41.36 89.49,41.47 C90.15,41.58 90.82,41.80 91.48,41.73 C92.15,41.66 92.82,41.02 93.48,41.05 C94.15,41.07 94.82,41.85 95.48,41.89 C96.15,41.94 96.82,41.30 97.48,41.31 C98.15,41.32 98.82,41.86 99.49,41.98 C100.15,42.09 100.82,41.92 101.49,41.98 C102.16,42.05 102.82,42.35 103.49,42.38 C104.16,42.40 104.83,42.27 105.49,42.15 C106.16,42.04 106.83,41.69 107.50,41.71 C108.16,41.74 108.83,42.26 109.50,42.31 C110.17,42.36 110.83,41.95 111.50,42.00 C112.17,42.04 112.84,42.59 113.51,42.58 C114.17,42.56 114.84,41.97 115.51,41.92 C116.18,41.87 116.84,42.13 117.51,42.25 C118.18,42.37 118.85,42.64 119.51,42.65 C120.18,42.65 120.85,42.24 121.52,42.26 C122.18,42.29 122.85,42.68 123.52,42.80 C124.18,42.91 124.85,42.90 125.52,42.95 C126.19,43.00 126.85,43.04 127.52,43.11 C128.19,43.18 128.85,43.37 129.52,43.37 C130.18,43.38 130.85,43.17 131.52,43.12 C132.18,43.06 132.85,43.01 133.51,43.05 C134.18,43.09 134.84,43.25 135.51,43.36 C136.17,43.47 136.83,43.65 137.50,43.70 C138.16,43.75 138.82,43.52 139.48,43.65 C140.15,43.79 140.81,44.42 141.47,44.52 C142.13,44.62 142.79,44.24 143.45,44.26 C144.11,44.27 144.76,44.35 145.42,44.60 C146.08,44.85 146.73,45.52 147.39,45.77 C148.04,46.02 148.70,46.03 149.35,46.08 C150.00,46.12 150.65,45.95 151.30,46.04 C151.95,46.13 152.59,46.36 153.24,46.62 C153.88,46.88 154.52,47.38 155.16,47.61 C155.80,47.84 156.44,47.89 157.08,48.01 C157.71,48.14 158.35,48.14 158.98,48.34 C159.61,48.53 160.23,48.87 160.86,49.19 C161.48,49.52 162.10,50.11 162.72,50.30 C163.34,50.49 163.95,50.03 164.56,50.33 C165.17,50.62 165.77,51.69 166.38,52.07 C166.98,52.44 167.57,52.40 168.17,52.58 C168.76,52.77 169.34,52.83 169.93,53.19 C170.51,53.55 171.09,54.41 171.66,54.74 C172.24,55.07 172.81,54.86 173.37,55.16 C173.94,55.46 174.50,56.10 175.06,56.54 C175.61,56.98 176.16,57.44 176.71,57.80 C177.26,58.16 177.80,58.28 178.34,58.71 C178.88,59.14 179.42,59.93 179.95,60.39 C180.48,60.85 181.01,61.15 181.53,61.47 C182.06,61.80 182.58,61.99 183.09,62.35 C183.61,62.71 184.12,63.22 184.63,63.64 C185.14,64.07 185.64,64.41 186.14,64.90 C186.64,65.39 187.14,66.11 187.63,66.57 C188.13,67.04 188.62,67.24 189.11,67.70 C189.59,68.15 190.08,68.77 190.56,69.29 C191.04,69.82 191.52,70.35 191.99,70.85 C192.46,71.35 192.93,71.89 193.40,72.30 C193.87,72.71 194.33,72.90 194.79,73.33 C195.25,73.77 195.71,74.39 196.17,74.91 C196.62,75.43 197.07,75.93 197.52,76.43 C197.97,76.93 198.41,77.41 198.85,77.92 C199.29,78.42 199.73,78.93 200.16,79.45 C200.60,79.96 201.03,80.46 201.46,81.00 C201.89,81.53 202.31,82.16 202.73,82.67 C203.15,83.17 203.57,83.55 203.99,84.05 C204.40,84.54 204.82,85.11 205.22,85.64 C205.63,86.18 206.04,86.73 206.44,87.25 C206.85,87.77 207.25,88.23 207.64,88.78 C208.04,89.33 208.43,90.00 208.82,90.55 C209.22,91.11 209.60,91.56 209.99,92.11 C210.38,92.67 210.76,93.34 211.14,93.90 C211.52,94.47 211.90,95.00 212.27,95.53 C212.65,96.05 213.02,96.50 213.39,97.04 C213.76,97.57 214.12,98.14 214.49,98.72 C214.85,99.30 215.21,99.95 215.57,100.52 C215.93,101.10 216.29,101.63 216.64,102.17 C217.00,102.71 217.35,103.20 217.70,103.77 C218.05,104.34 218.40,105.01 218.75,105.59 C219.09,106.17 219.44,106.69 219.78,107.27 C220.12,107.85 220.46,108.47 220.80,109.05 C221.13,109.64 221.47,110.20 221.80,110.77 C222.14,111.35 222.47,111.95 222.80,112.53 C223.13,113.11 223.46,113.67 223.79,114.25 C224.12,114.83 224.44,115.43 224.77,116.01 C225.09,116.59 225.41,117.14 225.73,117.72 C226.06,118.30 226.37,118.90 226.69,119.48 C227.01,120.07 227.33,120.65 227.65,121.24 C227.96,121.83 228.28,122.44 228.59,123.03 C228.90,123.62 229.22,124.20 229.53,124.79 C229.84,125.38 230.15,125.97 230.46,126.57 C230.77,127.16 231.08,127.75 231.39,128.34 C231.69,128.94 232.00,129.53 232.31,130.12 C232.61,130.72 232.92,131.31 233.22,131.90 C233.53,132.50 233.83,133.09 234.14,133.69 C234.44,134.28 234.74,134.88 235.05,135.47 C235.35,136.07 235.65,136.66 235.96,137.26 C236.26,137.86 236.56,138.45 236.86,139.05 C237.16,139.64 237.46,140.24 237.77,140.84 C238.07,141.43 238.37,142.03 238.67,142.63 C238.97,143.22 239.27,143.82 239.57,144.41 C239.87,145.01 240.17,145.61 240.47,146.20 C240.78,146.80 241.08,147.40 241.38,147.99 C241.68,148.59 241.98,149.18 242.28,149.78 C242.58,150.38 242.89,150.97 243.19,151.57 C243.49,152.16 243.80,152.76 244.10,153.35 C244.40,153.95 244.71,154.54 245.01,155.14 C245.32,155.73 245.62,156.33 245.93,156.92 C246.23,157.51 246.54,158.11 246.85,158.70 C247.15,159.29 247.46,159.89 247.77,160.48 C248.08,161.07 248.39,161.66 248.70,162.25 C249.01,162.85 249.32,163.44 249.63,164.03 C249.94,164.62 250.26,165.21 250.57,165.80 C250.89,166.39 251.20,166.98 251.52,167.56 C251.84,168.15 252.15,168.74 252.47,169.33 C252.79,169.91 253.11,170.50 253.43,171.08 C253.76,171.67 254.08,172.25 254.40,172.84 C254.73,173.42 255.05,174.00 255.38,174.59 C255.71,175.17 256.04,175.75 256.37,176.33 C256.70,176.91 257.03,177.49 257.37,178.07 C257.70,178.65 258.04,179.22 258.38,179.80 C258.71,180.38 259.05,180.95 259.40,181.52 C259.74,182.10 260.08,182.67 260.43,183.24 C260.77,183.81 261.12,184.39 261.47,184.95 C261.82,185.52 262.17,186.09 262.53,186.66 C262.88,187.22 263.24,187.79 263.59,188.35 C263.95,188.92 264.31,189.48 264.68,190.04 C265.04,190.60 265.41,191.16 265.77,191.72 C266.14,192.27 266.51,192.83 266.89,193.38 C267.26,193.94 267.64,194.49 268.01,195.04 C268.39,195.59 268.77,196.14 269.16,196.69 C269.54,197.23 269.93,197.78 270.32,198.32 C270.71,198.86 271.10,199.40 271.49,199.94 C271.89,200.48 272.29,201.02 272.69,201.55 C273.09,202.09 273.49,202.62 273.90,203.15 C274.31,203.68 274.72,204.20 275.13,204.73 C275.54,205.25 275.96,205.78 276.38,206.30 C276.80,206.82 277.22,207.33 277.65,207.85 C278.07,208.36 278.50,208.87 278.94,209.38 C279.37,209.89 279.81,210.40 280.25,210.90 C280.69,211.40 281.13,211.90 281.58,212.40 C282.02,212.89 282.47,213.39 282.93,213.88 C283.38,214.37 283.84,214.86 284.30,215.34 C284.76,215.82 285.22,216.30 285.69,216.78 C286.16,217.26 286.63,217.73 287.11,218.20 C287.58,218.67 288.06,219.13 288.54,219.60 C289.03,220.06 289.51,220.52 290.00,220.97 C290.49,221.42 290.99,221.87 291.48,222.32 C291.98,222.77 292.48,223.21 292.99,223.64 C293.49,224.08 294.00,224.51 294.51,224.94 C295.02,225.37 295.54,225.80 296.06,226.22 C296.58,226.64 297.10,227.05 297.63,227.46 C298.15,227.87 298.68,228.28 299.22,228.68 C299.75,229.09 300.29,229.49 300.82,229.88 C301.36,230.28 301.90,230.67 302.45,231.06 C302.99,231.44 303.54,231.83 304.09,232.21 C304.64,232.59 305.19,232.96 305.75,233.33 C306.30,233.71 306.86,234.08 307.41,234.44 C307.97,234.81 308.53,235.17 309.10,235.53 C309.66,235.89 310.23,236.25 310.79,236.60 C311.36,236.95 311.93,237.30 312.50,237.65 C313.07,238.00 313.64,238.34 314.22,238.68 C314.79,239.03 315.37,239.36 315.94,239.70 C316.52,240.04 317.10,240.37 317.68,240.70 C318.26,241.04 318.84,241.36 319.42,241.69 C320.00,242.02 320.59,242.34 321.17,242.67 C321.76,242.99 322.34,243.31 322.93,243.63 C323.52,243.95 324.10,244.27 324.69,244.58 C325.28,244.90 325.87,245.21 326.46,245.52 C327.05,245.84 327.64,246.15 328.23,246.46 C328.83,246.77 329.42,247.07 330.01,247.38 C330.61,247.69 331.20,247.99 331.79,248.30 C332.39,248.60 332.98,248.91 333.58,249.21 C334.18,249.51 334.77,249.81 335.37,250.11 C335.96,250.41 336.56,250.71 337.16,251.01 C337.75,251.31 338.35,251.61 338.95,251.91 C339.55,252.21 340.14,252.51 340.74,252.81 C341.34,253.10 341.94,253.40 342.54,253.70 C343.13,254.00 343.73,254.30 344.33,254.59 C344.93,254.89 345.53,255.19 346.12,255.49 C346.72,255.79 347.32,256.08 347.92,256.38 C348.51,256.69 349.11,256.99 349.70,257.29 C350.30,257.59 350.89,257.90 351.48,258.21 C352.08,258.52 352.67,258.83 353.26,259.14 C353.85,259.46 354.44,259.77 355.02,260.09 C355.61,260.42 356.19,260.74 356.77,261.07 C357.35,261.40 357.93,261.74 358.50,262.08 C359.08,262.42 359.65,262.76 360.22,263.12 C360.78,263.47 361.35,263.83 361.91,264.19 C362.47,264.56 363.02,264.93 363.57,265.31 C364.12,265.68 364.67,266.07 365.21,266.46 C365.75,266.86 366.28,267.26 366.81,267.67 C367.34,268.08 367.86,268.50 368.37,268.93 C368.88,269.35 369.39,269.79 369.89,270.24 C370.38,270.68 370.88,271.14 371.36,271.60 C371.84,272.06 372.31,272.54 372.77,273.02 C373.23,273.50 373.68,273.99 374.13,274.49 C374.57,275.00 375.00,275.51 375.42,276.03 C375.84,276.55 376.25,277.07 376.64,277.61 C377.04,278.15 377.43,278.69 377.80,279.25 C378.18,279.80 378.55,280.36 378.91,280.92 C379.26,281.48 379.61,282.05 379.96,282.62 C380.30,283.19 380.64,283.77 380.98,284.35 C381.31,284.93 381.64,285.51 381.96,286.09 C382.29,286.68 382.61,287.26 382.93,287.85 C383.24,288.44 383.56,289.03 383.88,289.62 C384.19,290.20 384.51,290.79 384.82,291.38 C385.14,291.97 385.45,292.56 385.77,293.15 C386.09,293.73 386.41,294.32 386.73,294.91 C387.05,295.49 387.38,296.07 387.71,296.66 C388.04,297.24 388.37,297.81 388.71,298.39 C389.05,298.97 389.39,299.54 389.73,300.11 C390.08,300.69 390.43,301.26 390.78,301.82 C391.14,302.39 391.49,302.95 391.85,303.51 C392.22,304.08 392.58,304.64 392.95,305.19 C393.32,305.75 393.70,306.30 394.08,306.85 C394.46,307.40 394.84,307.95 395.23,308.49 C395.62,309.03 396.01,309.57 396.41,310.11 C396.81,310.65 397.21,311.18 397.62,311.71 C398.02,312.24 398.44,312.76 398.85,313.29 C399.27,313.81 399.69,314.33 400.12,314.84 C400.54,315.35 400.98,315.86 401.41,316.37 C401.85,316.88 402.29,317.38 402.73,317.88 C403.18,318.37 403.63,318.87 404.08,319.36 C404.54,319.85 404.99,320.34 405.46,320.81 C405.93,321.29 406.40,321.76 406.89,322.22 C407.38,322.67 407.87,323.12 408.39,323.55 C408.90,323.97 409.43,324.39 409.97,324.77 C410.52,325.16 411.08,325.52 411.66,325.85 C412.24,326.18 412.84,326.48 413.46,326.74 C414.07,327.00 414.70,327.22 415.34,327.42 C415.98,327.61 416.63,327.77 417.28,327.92 C417.93,328.06 418.59,328.17 419.25,328.28 C419.91,328.38 420.58,328.47 421.24,328.55 C421.90,328.63 422.57,328.69 423.23,328.76 C423.90,328.82 424.56,328.88 425.23,328.94 C425.89,329.00 426.56,329.06 427.22,329.13 C427.89,329.19 428.55,329.22 429.22,329.32 C429.88,329.41 430.55,329.66 431.21,329.72 C431.88,329.78 432.54,329.64 433.21,329.67 C433.87,329.71 434.54,329.88 435.20,329.92 C435.87,329.97 436.53,329.93 437.20,329.97 C437.86,330.00 438.52,330.06 439.19,330.15 C439.85,330.25 440.52,330.41 441.18,330.53 C441.85,330.64 442.51,330.83 443.18,330.85 C443.84,330.87 444.51,330.62 445.17,330.65 C445.84,330.68 446.50,330.90 447.17,331.01 C447.83,331.13 448.50,331.22 449.16,331.34 C449.83,331.46 450.49,331.73 451.16,331.74 C451.83,331.76 452.49,331.44 453.16,331.43 C453.82,331.42 454.49,331.59 455.15,331.68 C455.82,331.77 456.49,331.94 457.15,331.96 C457.82,331.98 458.48,331.75 459.15,331.81 C459.82,331.86 460.48,332.13 461.15,332.28 C461.82,332.42 462.48,332.66 463.15,332.67 C463.82,332.67 464.48,332.32 465.15,332.31 C465.81,332.30 466.48,332.56 467.15,332.58 C467.81,332.61 468.48,332.41 469.15,332.45 C469.81,332.50 470.48,332.72 471.15,332.86 C471.82,333.00 472.48,333.25 473.15,333.29 C473.82,333.34 474.48,333.16 475.15,333.11 C475.82,333.06 476.48,332.99 477.15,333.00 C477.82,333.01 478.48,333.10 479.15,333.18 C479.82,333.27 480.48,333.42 481.15,333.53 C481.82,333.63 482.48,333.79 483.15,333.81 C483.82,333.82 484.48,333.64 485.15,333.64 C485.82,333.64 486.49,333.70 487.15,333.78 C487.82,333.86 488.49,334.12 489.15,334.11 C489.82,334.10 490.49,333.66 491.16,333.71 C491.82,333.76 492.49,334.32 493.16,334.39 C493.82,334.46 494.49,334.17 495.16,334.12 C495.83,334.07 496.50,334.03 497.16,334.08 C497.83,334.13 498.50,334.43 499.17,334.43 C499.83,334.43 500.50,334.15 501.17,334.08 C501.84,334.01 502.51,334.00 503.17,334.00 C503.84,333.99 504.51,334.00 505.18,334.04 C505.85,334.09 506.51,334.32 507.18,334.27 C507.85,334.23 508.52,333.84 509.18,333.78 C509.85,333.72 510.52,333.94 511.18,333.91 C511.85,333.88 512.52,333.65 513.18,333.60 C513.85,333.55 514.51,333.70 515.18,333.62 C515.84,333.54 516.50,333.16 517.17,333.10 C517.83,333.04 518.49,333.28 519.15,333.27 C519.81,333.26 520.47,333.23 521.13,333.06 C521.79,332.89 522.44,332.47 523.10,332.27 C523.76,332.08 524.41,332.00 525.06,331.89 C525.71,331.77 526.69,331.65 527.01,331.60" stroke="#ff0000"/>
<path d="M79.55,85.22 C79.87,85.24 80.84,85.14 81.49,85.33 C82.14,85.52 82.79,86.09 83.44,86.35 C84.09,86.61 84.75,86.75 85.40,86.91 C86.06,87.06 86.71,87.21 87.37,87.28 C88.02,87.36 88.68,87.21 89.34,87.33 C90.00,87.46 90.66,87.89 91.32,88.02 C91.98,88.15 92.64,88.08 93.30,88.09 C93.96,88.09 94.62,88.00 95.28,88.05 C95.95,88.11 96.61,88.26 97.27,88.41 C97.94,88.56 98.60,88.82 99.26,88.94 C99.93,89.06 100.59,89.03 101.26,89.14 C101.92,89.25 102.59,89.49 103.25,89.58 C103.92,89.68 104.58,89.73 105.25,89.71 C105.91,89.69 106.58,89.44 107.24,89.46 C107.91,89.47 108.57,89.67 109.24,89.81 C109.91,89.96 110.57,90.27 111.24,90.34 C111.90,90.41 112.57,90.25 113.24,90.23 C113.90,90.21 114.57,90.07 115.24,90.20 C115.90,90.33 116.57,90.92 117.23,91.01 C117.90,91.11 118.57,90.79 119.23,90.75 C119.90,90.72 120.57,90.74 121.23,90.81 C121.90,90.88 122.56,91.12 123.23,91.18 C123.89,91.24 124.56,91.16 125.23,91.19 C125.89,91.22 126.56,91.24 127.22,91.37 C127.89,91.49 128.55,91.78 129.22,91.94 C129.88,92.09 130.55,92.25 131.21,92.29 C131.87,92.33 132.54,92.20 133.20,92.19 C133.86,92.18 134.53,92.13 135.19,92.24 C135.85,92.34 136.51,92.67 137.17,92.81 C137.84,92.94 138.50,92.95 139.16,93.05 C139.82,93.15 140.48,93.33 141.13,93.42 C141.79,93.51 142.45,93.43 143.11,93.60 C143.77,93.78 144.42,94.34 145.08,94.47 C145.73,94.60 146.39,94.35 147.04,94.38 C147.69,94.42 148.34,94.46 148.99,94.69 C149.64,94.92 150.29,95.50 150.94,95.78 C151.58,96.05 152.23,96.23 152.87,96.34 C153.52,96.46 154.16,96.35 154.80,96.46 C155.44,96.57 156.08,96.75 156.71,97.01 C157.35,97.27 157.98,97.69 158.61,98.02 C159.24,98.36 159.87,98.83 160.49,99.02 C161.11,99.22 161.74,98.97 162.35,99.17 C162.97,99.36 163.59,99.94 164.20,100.21 C164.81,100.48 165.42,100.48 166.03,100.79 C166.63,101.10 167.24,101.76 167.84,102.09 C168.43,102.42 169.03,102.50 169.62,102.76 C170.21,103.02 170.80,103.28 171.39,103.64 C171.97,103.99 172.55,104.51 173.13,104.87 C173.70,105.24 174.27,105.52 174.84,105.81 C175.41,106.10 175.97,106.27 176.53,106.62 C177.09,106.97 177.65,107.44 178.20,107.92 C178.75,108.39 179.29,109.04 179.84,109.48 C180.38,109.93 180.91,110.21 181.44,110.56 C181.97,110.91 182.50,111.19 183.02,111.59 C183.54,111.99 184.06,112.58 184.57,112.97 C185.08,113.36 185.58,113.52 186.08,113.94 C186.58,114.36 187.07,114.94 187.56,115.48 C188.05,116.02 188.53,116.72 189.00,117.17 C189.48,117.62 189.95,117.68 190.41,118.17 C190.88,118.66 191.34,119.54 191.79,120.09 C192.24,120.65 192.69,121.03 193.13,121.50 C193.57,121.97 194.01,122.46 194.44,122.92 C194.87,123.39 195.30,123.84 195.72,124.31 C196.14,124.78 196.56,125.22 196.97,125.74 C197.38,126.26 197.78,126.85 198.19,127.44 C198.59,128.03 198.98,128.71 199.38,129.26 C199.77,129.82 200.15,130.20 200.54,130.75 C200.92,131.31 201.30,132.03 201.67,132.57 C202.05,133.11 202.42,133.44 202.78,134.00 C203.15,134.56 203.51,135.32 203.87,135.93 C204.23,136.54 204.58,137.08 204.93,137.64 C205.28,138.20 205.63,138.76 205.98,139.30 C206.32,139.83 206.66,140.29 207.00,140.84 C207.34,141.39 207.67,142.01 208.00,142.59 C208.33,143.16 208.66,143.71 208.99,144.29 C209.32,144.87 209.64,145.43 209.96,146.05 C210.28,146.67 210.60,147.40 210.92,148.01 C211.24,148.63 211.55,149.12 211.87,149.71 C212.18,150.30 212.49,150.98 212.80,151.56 C213.11,152.14 213.42,152.64 213.72,153.22 C214.03,153.80 214.33,154.40 214.64,155.02 C214.94,155.64 215.24,156.32 215.54,156.94 C215.84,157.55 216.14,158.17 216.44,158.74 C216.74,159.31 217.04,159.77 217.34,160.36 C217.64,160.95 217.94,161.67 218.23,162.28 C218.53,162.90 218.83,163.46 219.12,164.04 C219.42,164.62 219.72,165.16 220.01,165.76 C220.31,166.36 220.61,167.04 220.90,167.64 C221.20,168.25 221.50,168.81 221.80,169.40 C222.09,169.99 222.39,170.60 222.69,171.21 C222.99,171.82 223.29,172.46 223.58,173.06 C223.88,173.67 224.18,174.25 224.48,174.83 C224.78,175.42 225.08,175.98 225.38,176.58 C225.68,177.17 225.98,177.81 226.28,178.41 C226.59,179.01 226.89,179.57 227.19,180.17 C227.49,180.76 227.80,181.39 228.10,181.99 C228.41,182.59 228.71,183.17 229.02,183.76 C229.32,184.36 229.63,184.95 229.94,185.55 C230.24,186.14 230.55,186.73 230.86,187.33 C231.17,187.92 231.48,188.51 231.79,189.10 C232.10,189.70 232.41,190.29 232.73,190.88 C233.04,191.47 233.35,192.06 233.67,192.65 C233.98,193.24 234.30,193.83 234.62,194.42 C234.93,195.01 235.25,195.60 235.57,196.18 C235.89,196.77 236.21,197.36 236.53,197.94 C236.86,198.53 237.18,199.12 237.50,199.70 C237.83,200.29 238.16,200.87 238.48,201.45 C238.81,202.04 239.14,202.62 239.47,203.20 C239.80,203.78 240.13,204.36 240.47,204.94 C240.80,205.52 241.13,206.10 241.47,206.68 C241.81,207.26 242.15,207.83 242.49,208.41 C242.83,208.98 243.17,209.56 243.51,210.13 C243.85,210.71 244.20,211.28 244.55,211.85 C244.89,212.42 245.24,212.99 245.59,213.56 C245.94,214.13 246.30,214.70 246.65,215.27 C247.00,215.84 247.36,216.40 247.72,216.97 C248.08,217.53 248.44,218.10 248.80,218.66 C249.16,219.22 249.52,219.78 249.89,220.34 C250.26,220.90 250.62,221.46 250.99,222.02 C251.36,222.58 251.74,223.13 252.11,223.69 C252.48,224.24 252.86,224.79 253.24,225.34 C253.62,225.90 254.00,226.45 254.38,226.99 C254.77,227.54 255.15,228.09 255.54,228.63 C255.93,229.18 256.32,229.72 256.71,230.26 C257.10,230.81 257.49,231.35 257.89,231.88 C258.29,232.42 258.69,232.96 259.09,233.49 C259.49,234.03 259.89,234.56 260.30,235.09 C260.70,235.63 261.11,236.16 261.52,236.68 C261.94,237.21 262.35,237.74 262.76,238.26 C263.18,238.78 263.60,239.31 264.02,239.83 C264.44,240.35 264.86,240.86 265.29,241.38 C265.72,241.90 266.14,242.41 266.57,242.92 C267.01,243.43 267.44,243.94 267.88,244.45 C268.31,244.95 268.75,245.46 269.19,245.96 C269.64,246.46 270.08,246.96 270.53,247.46 C270.97,247.96 271.42,248.45 271.88,248.94 C272.33,249.44 272.79,249.93 273.25,250.41 C273.70,250.90 274.17,251.38 274.63,251.86 C275.09,252.35 275.56,252.82 276.03,253.30 C276.50,253.77 276.98,254.25 277.45,254.72 C277.93,255.19 278.41,255.65 278.89,256.12 C279.37,256.58 279.86,257.04 280.35,257.49 C280.84,257.95 281.33,258.40 281.82,258.85 C282.32,259.30 282.82,259.75 283.32,260.19 C283.82,260.64 284.32,261.08 284.83,261.51 C285.34,261.95 285.85,262.38 286.36,262.81 C286.88,263.23 287.40,263.66 287.92,264.08 C288.44,264.50 288.96,264.91 289.49,265.32 C290.02,265.73 290.55,266.14 291.08,266.54 C291.62,266.95 292.15,267.34 292.69,267.74 C293.23,268.13 293.78,268.52 294.33,268.91 C294.87,269.29 295.42,269.67 295.98,270.04 C296.53,270.42 297.09,270.79 297.65,271.15 C298.21,271.52 298.78,271.88 299.34,272.23 C299.91,272.58 300.48,272.93 301.06,273.28 C301.63,273.62 302.21,273.96 302.79,274.29 C303.37,274.62 303.95,274.95 304.54,275.27 C305.13,275.59 305.72,275.90 306.31,276.21 C306.90,276.52 307.50,276.82 308.10,277.12 C308.70,277.41 309.30,277.70 309.91,277.98 C310.52,278.27 311.13,278.54 311.74,278.81 C312.35,279.08 312.96,279.35 313.58,279.60 C314.20,279.86 314.82,280.11 315.44,280.35 C316.07,280.59 316.69,280.83 317.32,281.06 C317.95,281.28 318.58,281.51 319.22,281.72 C319.85,281.93 320.48,282.14 321.12,282.34 C321.76,282.54 322.40,282.74 323.04,282.92 C323.68,283.11 324.33,283.30 324.97,283.47 C325.62,283.65 326.26,283.82 326.91,283.99 C327.56,284.16 328.21,284.32 328.86,284.48 C329.51,284.64 330.16,284.79 330.81,284.94 C331.46,285.10 332.11,285.24 332.77,285.39 C333.42,285.53 334.07,285.67 334.73,285.81 C335.38,285.95 336.04,286.09 336.69,286.22 C337.35,286.36 338.00,286.49 338.66,286.62 C339.31,286.75 339.97,286.88 340.63,287.01 C341.28,287.14 341.94,287.26 342.60,287.39 C343.25,287.52 343.91,287.65 344.57,287.77 C345.22,287.90 345.88,288.03 346.54,288.16 C347.19,288.28 347.85,288.41 348.50,288.54 C349.16,288.67 349.82,288.80 350.47,288.94 C351.13,289.07 351.78,289.20 352.44,289.34 C353.09,289.48 353.75,289.62 354.40,289.76 C355.05,289.90 355.71,290.04 356.36,290.19 C357.01,290.34 357.66,290.49 358.31,290.65 C358.96,290.80 359.61,290.96 360.26,291.13 C360.91,291.29 361.56,291.46 362.20,291.63 C362.85,291.81 363.49,291.98 364.14,292.17 C364.78,292.35 365.42,292.54 366.06,292.74 C366.70,292.94 367.34,293.14 367.97,293.35 C368.61,293.56 369.24,293.78 369.87,294.01 C370.50,294.23 371.12,294.46 371.75,294.71 C372.37,294.95 372.99,295.20 373.61,295.46 C374.22,295.72 374.83,295.99 375.44,296.27 C376.05,296.56 376.65,296.85 377.25,297.15 C377.84,297.45 378.44,297.76 379.02,298.09 C379.61,298.41 380.19,298.74 380.76,299.09 C381.33,299.44 381.89,299.80 382.45,300.17 C383.01,300.54 383.56,300.92 384.10,301.31 C384.64,301.71 385.17,302.11 385.69,302.53 C386.21,302.95 386.73,303.38 387.23,303.82 C387.74,304.25 388.23,304.70 388.73,305.16 C389.22,305.61 389.70,306.07 390.18,306.54 C390.66,307.00 391.14,307.47 391.61,307.95 C392.08,308.42 392.55,308.90 393.02,309.38 C393.48,309.86 393.95,310.34 394.41,310.82 C394.88,311.30 395.34,311.78 395.81,312.26 C396.27,312.74 396.74,313.22 397.21,313.70 C397.68,314.17 398.15,314.65 398.63,315.11 C399.11,315.58 399.59,316.05 400.07,316.51 C400.56,316.97 401.05,317.42 401.55,317.86 C402.05,318.31 402.56,318.75 403.07,319.17 C403.59,319.60 404.11,320.01 404.65,320.41 C405.18,320.82 405.73,321.21 406.28,321.58 C406.84,321.95 407.40,322.31 407.98,322.65 C408.56,322.99 409.14,323.31 409.74,323.62 C410.33,323.92 410.93,324.21 411.54,324.49 C412.15,324.77 412.77,325.03 413.39,325.27 C414.01,325.52 414.64,325.75 415.27,325.97 C415.90,326.19 416.54,326.40 417.18,326.59 C417.82,326.79 418.46,326.97 419.11,327.14 C419.75,327.32 420.40,327.48 421.05,327.63 C421.70,327.79 422.36,327.93 423.01,328.07 C423.67,328.20 424.32,328.33 424.98,328.45 C425.64,328.58 426.30,328.69 426.96,328.80 C427.62,328.91 428.28,329.05 428.94,329.12 C429.60,329.19 430.26,329.19 430.92,329.23 C431.59,329.28 432.25,329.23 432.91,329.38 C433.57,329.54 434.24,330.03 434.90,330.17 C435.56,330.32 436.23,330.22 436.89,330.24 C437.55,330.26 438.22,330.27 438.88,330.30 C439.55,330.33 440.21,330.34 440.87,330.42 C441.54,330.50 442.20,330.61 442.87,330.76 C443.53,330.91 444.20,331.24 444.86,331.31 C445.53,331.37 446.19,331.15 446.86,331.14 C447.52,331.12 448.19,331.14 448.85,331.22 C449.52,331.31 450.19,331.55 450.85,331.65 C451.52,331.74 452.18,331.70 452.85,331.80 C453.52,331.90 454.18,332.14 454.85,332.23 C455.52,332.31 456.18,332.27 456.85,332.29 C457.52,332.32 458.18,332.29 458.85,332.39 C459.52,332.49 460.18,332.80 460.85,332.89 C461.52,332.99 462.18,332.99 462.85,332.94 C463.52,332.89 464.19,332.60 464.85,332.57 C465.52,332.54 466.19,332.70 466.86,332.78 C467.52,332.85 468.19,332.99 468.86,333.01 C469.53,333.02 470.20,332.79 470.86,332.87 C471.53,332.94 472.20,333.33 472.87,333.44 C473.54,333.55 474.20,333.56 474.87,333.53 C475.54,333.51 476.21,333.24 476.88,333.28 C477.55,333.32 478.21,333.72 478.88,333.77 C479.55,333.82 480.22,333.64 480.89,333.58 C481.56,333.52 482.23,333.38 482.89,333.40 C483.56,333.42 484.23,333.65 484.90,333.72 C485.57,333.78 486.24,333.76 486.91,333.78 C487.58,333.80 488.24,333.79 488.91,333.83 C489.58,333.87 490.25,334.00 490.92,334.02 C491.59,334.05 492.26,334.05 492.93,333.98 C493.60,333.91 494.26,333.68 494.93,333.62 C495.60,333.56 496.27,333.67 496.94,333.62 C497.61,333.56 498.28,333.31 498.95,333.30 C499.61,333.29 500.28,333.54 500.95,333.54 C501.62,333.54 502.29,333.38 502.96,333.32 C503.63,333.27 504.30,333.17 504.96,333.23 C505.63,333.28 506.30,333.68 506.97,333.65 C507.64,333.61 508.31,333.12 508.97,333.01 C509.64,332.91 510.31,332.96 510.98,333.00 C511.65,333.05 512.31,333.26 512.98,333.28 C513.65,333.30 514.32,333.17 514.99,333.10 C515.65,333.04 516.32,332.90 516.99,332.89 C517.66,332.88 518.32,333.09 518.99,333.03 C519.66,332.96 520.33,332.61 520.99,332.49 C521.66,332.37 522.33,332.34 522.99,332.32 C523.66,332.30 524.33,332.45 524.99,332.38 C525.66,332.31 526.66,332.00 526.99,331.93" stroke="#008000"/>
<path d="M79.51,51.03 C79.84,51.12 80.84,51.50 81.51,51.60 C82.17,51.71 82.84,51.62 83.50,51.67 C84.17,51.71 84.83,51.95 85.50,51.89 C86.17,51.83 86.83,51.33 87.50,51.31 C88.16,51.28 88.83,51.59 89.50,51.76 C90.16,51.93 90.83,52.21 91.50,52.32 C92.16,52.42 92.83,52.39 93.50,52.38 C94.16,52.37 94.83,52.26 95.50,52.27 C96.16,52.28 96.83,52.44 97.50,52.43 C98.16,52.41 98.83,52.21 99.50,52.18 C100.17,52.16 100.83,52.28 101.50,52.28 C102.17,52.28 102.83,52.07 103.50,52.20 C104.17,52.33 104.83,52.99 105.50,53.05 C106.17,53.12 106.84,52.55 107.50,52.60 C108.17,52.65 108.84,53.34 109.50,53.34 C110.17,53.33 110.84,52.55 111.50,52.56 C112.17,52.56 112.84,53.27 113.50,53.38 C114.17,53.50 114.84,53.33 115.50,53.25 C116.17,53.18 116.84,52.88 117.50,52.94 C118.17,53.01 118.84,53.49 119.50,53.64 C120.17,53.78 120.83,53.76 121.50,53.82 C122.17,53.88 122.83,53.92 123.50,53.97 C124.16,54.03 124.83,54.09 125.49,54.14 C126.16,54.20 126.82,54.24 127.49,54.31 C128.15,54.39 128.82,54.57 129.48,54.59 C130.15,54.62 130.81,54.36 131.47,54.46 C132.14,54.56 132.80,55.12 133.46,55.22 C134.13,55.31 134.79,55.06 135.45,55.04 C136.11,55.03 136.77,54.95 137.43,55.13 C138.10,55.30 138.76,55.97 139.42,56.08 C140.08,56.18 140.73,55.73 141.39,55.76 C142.05,55.79 142.71,56.07 143.37,56.25 C144.02,56.44 144.68,56.68 145.33,56.86 C145.99,57.04 146.64,57.27 147.30,57.35 C147.95,57.43 148.60,57.32 149.25,57.35 C149.90,57.39 150.55,57.36 151.20,57.56 C151.85,57.76 152.50,58.29 153.14,58.54 C153.79,58.80 154.43,58.88 155.08,59.08 C155.72,59.29 156.36,59.63 157.00,59.77 C157.64,59.91 158.28,59.73 158.91,59.94 C159.55,60.16 160.18,60.79 160.81,61.08 C161.44,61.38 162.07,61.47 162.70,61.71 C163.33,61.95 163.95,62.26 164.57,62.50 C165.20,62.74 165.82,62.92 166.43,63.15 C167.05,63.38 167.66,63.62 168.28,63.86 C168.89,64.10 169.50,64.27 170.10,64.58 C170.71,64.89 171.31,65.46 171.91,65.71 C172.51,65.95 173.10,65.79 173.70,66.07 C174.29,66.34 174.88,66.97 175.47,67.37 C176.05,67.77 176.64,68.10 177.22,68.44 C177.80,68.79 178.37,69.17 178.95,69.43 C179.52,69.69 180.09,69.70 180.66,69.99 C181.22,70.29 181.78,70.76 182.34,71.22 C182.90,71.68 183.45,72.33 184.01,72.77 C184.56,73.20 185.10,73.50 185.65,73.80 C186.19,74.10 186.73,74.21 187.26,74.58 C187.80,74.95 188.33,75.53 188.85,76.01 C189.38,76.49 189.90,77.00 190.41,77.46 C190.93,77.92 191.44,78.36 191.95,78.77 C192.46,79.17 192.96,79.51 193.46,79.89 C193.96,80.27 194.45,80.59 194.94,81.02 C195.43,81.45 195.91,82.00 196.39,82.47 C196.87,82.93 197.35,83.31 197.82,83.78 C198.29,84.26 198.76,84.81 199.22,85.29 C199.68,85.78 200.14,86.18 200.59,86.71 C201.04,87.24 201.49,87.93 201.94,88.48 C202.38,89.02 202.82,89.49 203.26,89.98 C203.69,90.47 204.13,90.88 204.55,91.40 C204.98,91.93 205.40,92.61 205.82,93.11 C206.24,93.61 206.66,93.93 207.07,94.42 C207.48,94.91 207.89,95.47 208.30,96.03 C208.70,96.58 209.10,97.21 209.50,97.76 C209.90,98.32 210.29,98.84 210.68,99.36 C211.07,99.87 211.46,100.31 211.84,100.88 C212.23,101.44 212.61,102.16 212.99,102.73 C213.36,103.30 213.74,103.77 214.11,104.31 C214.48,104.85 214.85,105.43 215.22,105.98 C215.58,106.53 215.94,107.05 216.31,107.61 C216.67,108.17 217.02,108.79 217.38,109.35 C217.74,109.90 218.09,110.39 218.44,110.95 C218.79,111.51 219.14,112.12 219.49,112.70 C219.83,113.29 220.18,113.89 220.52,114.47 C220.87,115.05 221.21,115.61 221.55,116.18 C221.89,116.76 222.22,117.34 222.56,117.90 C222.90,118.47 223.23,119.01 223.56,119.59 C223.90,120.17 224.23,120.77 224.56,121.36 C224.89,121.95 225.22,122.56 225.55,123.15 C225.88,123.74 226.20,124.31 226.53,124.88 C226.86,125.46 227.18,126.04 227.51,126.62 C227.83,127.20 228.15,127.77 228.48,128.35 C228.80,128.94 229.12,129.53 229.44,130.12 C229.76,130.70 230.08,131.29 230.40,131.88 C230.72,132.46 231.04,133.05 231.36,133.64 C231.68,134.23 231.99,134.81 232.31,135.40 C232.63,135.99 232.94,136.58 233.26,137.17 C233.57,137.75 233.89,138.34 234.20,138.93 C234.52,139.52 234.83,140.11 235.15,140.70 C235.46,141.29 235.78,141.88 236.09,142.47 C236.40,143.06 236.72,143.65 237.03,144.24 C237.34,144.83 237.65,145.42 237.97,146.01 C238.28,146.60 238.59,147.19 238.90,147.78 C239.22,148.37 239.53,148.96 239.84,149.55 C240.15,150.14 240.47,150.73 240.78,151.32 C241.09,151.91 241.40,152.50 241.72,153.09 C242.03,153.68 242.34,154.27 242.66,154.86 C242.97,155.45 243.28,156.04 243.60,156.63 C243.91,157.22 244.22,157.81 244.54,158.40 C244.85,158.99 245.17,159.57 245.48,160.16 C245.80,160.75 246.12,161.34 246.43,161.93 C246.75,162.52 247.07,163.10 247.38,163.69 C247.70,164.28 248.02,164.87 248.34,165.45 C248.66,166.04 248.98,166.63 249.30,167.21 C249.62,167.80 249.94,168.38 250.26,168.97 C250.58,169.55 250.91,170.14 251.23,170.72 C251.55,171.31 251.88,171.89 252.20,172.47 C252.53,173.06 252.86,173.64 253.18,174.22 C253.51,174.80 253.84,175.38 254.17,175.96 C254.50,176.54 254.83,177.12 255.16,177.70 C255.50,178.28 255.83,178.86 256.17,179.44 C256.50,180.02 256.84,180.59 257.17,181.17 C257.51,181.75 257.85,182.32 258.19,182.90 C258.53,183.47 258.87,184.04 259.22,184.62 C259.56,185.19 259.91,185.76 260.25,186.33 C260.60,186.90 260.95,187.47 261.30,188.04 C261.65,188.61 262.00,189.18 262.35,189.75 C262.70,190.31 263.06,190.88 263.42,191.44 C263.77,192.01 264.13,192.57 264.49,193.13 C264.85,193.69 265.21,194.26 265.58,194.82 C265.94,195.37 266.31,195.93 266.68,196.49 C267.05,197.05 267.42,197.60 267.79,198.16 C268.16,198.71 268.53,199.27 268.91,199.82 C269.29,200.37 269.67,200.92 270.05,201.47 C270.43,202.01 270.81,202.56 271.20,203.11 C271.58,203.65 271.97,204.20 272.36,204.74 C272.75,205.28 273.14,205.82 273.54,206.36 C273.93,206.90 274.33,207.43 274.73,207.97 C275.13,208.50 275.53,209.04 275.94,209.57 C276.34,210.10 276.75,210.63 277.16,211.16 C277.57,211.68 277.98,212.21 278.40,212.73 C278.81,213.25 279.23,213.77 279.65,214.29 C280.07,214.81 280.50,215.33 280.92,215.84 C281.35,216.36 281.78,216.87 282.21,217.38 C282.64,217.89 283.07,218.40 283.51,218.90 C283.95,219.41 284.39,219.91 284.83,220.41 C285.27,220.91 285.72,221.41 286.17,221.90 C286.62,222.40 287.07,222.89 287.52,223.38 C287.98,223.87 288.43,224.35 288.89,224.84 C289.35,225.32 289.82,225.80 290.28,226.28 C290.75,226.76 291.22,227.24 291.69,227.71 C292.16,228.18 292.63,228.65 293.11,229.12 C293.59,229.59 294.07,230.05 294.55,230.51 C295.03,230.97 295.52,231.43 296.01,231.89 C296.50,232.34 296.99,232.79 297.48,233.24 C297.98,233.69 298.48,234.14 298.98,234.58 C299.48,235.02 299.98,235.46 300.49,235.89 C300.99,236.33 301.50,236.76 302.01,237.19 C302.53,237.62 303.04,238.05 303.56,238.47 C304.08,238.89 304.60,239.31 305.12,239.72 C305.64,240.14 306.17,240.55 306.70,240.96 C307.23,241.36 307.76,241.77 308.30,242.17 C308.83,242.57 309.37,242.96 309.91,243.35 C310.45,243.75 310.99,244.13 311.54,244.52 C312.08,244.90 312.63,245.28 313.19,245.66 C313.74,246.04 314.29,246.41 314.85,246.78 C315.41,247.14 315.97,247.51 316.53,247.87 C317.09,248.23 317.66,248.58 318.23,248.93 C318.79,249.28 319.36,249.63 319.94,249.97 C320.51,250.32 321.09,250.65 321.67,250.99 C322.24,251.32 322.83,251.65 323.41,251.97 C323.99,252.30 324.58,252.62 325.17,252.93 C325.76,253.25 326.35,253.56 326.94,253.86 C327.54,254.17 328.13,254.47 328.73,254.76 C329.33,255.06 329.93,255.35 330.54,255.63 C331.14,255.92 331.75,256.20 332.36,256.47 C332.96,256.75 333.58,257.02 334.19,257.28 C334.80,257.55 335.42,257.81 336.03,258.06 C336.65,258.32 337.27,258.57 337.89,258.81 C338.51,259.06 339.14,259.29 339.76,259.53 C340.39,259.76 341.02,259.99 341.64,260.22 C342.27,260.44 342.90,260.66 343.53,260.88 C344.16,261.10 344.80,261.32 345.43,261.53 C346.06,261.75 346.69,261.96 347.33,262.17 C347.96,262.39 348.59,262.60 349.23,262.81 C349.86,263.02 350.49,263.23 351.13,263.45 C351.76,263.66 352.39,263.88 353.02,264.10 C353.65,264.31 354.28,264.53 354.91,264.76 C355.54,264.98 356.17,265.21 356.80,265.44 C357.42,265.67 358.05,265.91 358.67,266.15 C359.29,266.40 359.91,266.64 360.53,266.90 C361.15,267.15 361.76,267.41 362.37,267.68 C362.98,267.95 363.59,268.23 364.19,268.52 C364.80,268.80 365.40,269.10 365.99,269.40 C366.58,269.71 367.17,270.02 367.76,270.35 C368.34,270.68 368.92,271.01 369.48,271.36 C370.05,271.71 370.62,272.07 371.17,272.45 C371.72,272.82 372.27,273.21 372.80,273.60 C373.34,274.00 373.87,274.41 374.38,274.84 C374.90,275.26 375.41,275.69 375.91,276.14 C376.41,276.58 376.90,277.03 377.38,277.50 C377.86,277.96 378.33,278.43 378.79,278.92 C379.26,279.40 379.71,279.89 380.16,280.38 C380.60,280.88 381.04,281.39 381.47,281.90 C381.90,282.41 382.32,282.93 382.74,283.45 C383.15,283.97 383.56,284.50 383.96,285.04 C384.35,285.57 384.75,286.11 385.13,286.66 C385.52,287.21 385.90,287.76 386.27,288.31 C386.64,288.86 387.00,289.42 387.36,289.99 C387.72,290.55 388.08,291.12 388.42,291.69 C388.77,292.26 389.11,292.83 389.45,293.41 C389.79,293.99 390.12,294.57 390.44,295.15 C390.77,295.73 391.09,296.32 391.41,296.91 C391.72,297.49 392.03,298.08 392.35,298.67 C392.66,299.27 392.96,299.86 393.27,300.45 C393.58,301.05 393.88,301.64 394.18,302.23 C394.49,302.83 394.79,303.42 395.09,304.02 C395.40,304.61 395.70,305.21 396.01,305.80 C396.32,306.39 396.63,306.99 396.94,307.58 C397.25,308.17 397.57,308.76 397.89,309.34 C398.21,309.93 398.53,310.51 398.86,311.09 C399.19,311.67 399.52,312.25 399.86,312.83 C400.20,313.40 400.55,313.97 400.91,314.54 C401.26,315.10 401.63,315.66 402.00,316.22 C402.37,316.77 402.75,317.32 403.14,317.86 C403.53,318.40 403.93,318.94 404.35,319.46 C404.77,319.98 405.20,320.49 405.65,320.99 C406.10,321.48 406.56,321.96 407.04,322.42 C407.53,322.88 408.03,323.32 408.56,323.74 C409.08,324.15 409.62,324.54 410.18,324.90 C410.75,325.26 411.33,325.60 411.92,325.90 C412.51,326.20 413.13,326.48 413.75,326.72 C414.37,326.97 415.00,327.18 415.64,327.36 C416.28,327.55 416.93,327.71 417.59,327.85 C418.24,328.00 418.90,328.11 419.55,328.22 C420.21,328.32 420.88,328.41 421.54,328.49 C422.20,328.56 422.87,328.62 423.53,328.68 C424.20,328.74 424.87,328.78 425.53,328.83 C426.20,328.87 426.87,328.91 427.53,328.94 C428.20,328.98 428.87,328.96 429.53,329.04 C430.20,329.12 430.87,329.46 431.53,329.43 C432.20,329.41 432.87,328.89 433.54,328.89 C434.20,328.89 434.87,329.36 435.54,329.44 C436.20,329.52 436.87,329.33 437.54,329.39 C438.20,329.44 438.87,329.71 439.54,329.78 C440.20,329.86 440.87,329.78 441.53,329.83 C442.20,329.88 442.87,330.01 443.53,330.08 C444.20,330.16 444.86,330.23 445.53,330.28 C446.19,330.34 446.86,330.43 447.52,330.40 C448.19,330.37 448.86,330.09 449.52,330.13 C450.18,330.16 450.85,330.46 451.51,330.60 C452.18,330.74 452.84,330.87 453.51,330.96 C454.17,331.05 454.84,331.07 455.50,331.16 C456.17,331.24 456.83,331.44 457.50,331.46 C458.16,331.49 458.82,331.35 459.49,331.31 C460.15,331.27 460.82,331.12 461.48,331.23 C462.15,331.33 462.81,331.83 463.48,331.93 C464.14,332.03 464.80,331.76 465.47,331.82 C466.13,331.88 466.80,332.24 467.46,332.28 C468.13,332.32 468.79,332.02 469.46,332.05 C470.12,332.07 470.79,332.32 471.45,332.45 C472.12,332.58 472.78,332.79 473.45,332.82 C474.11,332.85 474.78,332.62 475.44,332.64 C476.11,332.65 476.77,332.88 477.44,332.93 C478.11,332.98 478.77,332.84 479.44,332.96 C480.10,333.07 480.77,333.50 481.44,333.62 C482.10,333.74 482.77,333.65 483.44,333.66 C484.10,333.67 484.77,333.67 485.44,333.68 C486.10,333.68 486.77,333.62 487.44,333.68 C488.11,333.75 488.77,334.09 489.44,334.08 C490.11,334.07 490.78,333.65 491.44,333.63 C492.11,333.62 492.78,333.99 493.45,333.98 C494.11,333.97 494.78,333.57 495.45,333.56 C496.12,333.55 496.79,333.92 497.45,333.93 C498.12,333.94 498.79,333.69 499.46,333.60 C500.12,333.51 500.79,333.35 501.46,333.41 C502.13,333.47 502.79,333.96 503.46,333.96 C504.13,333.96 504.79,333.44 505.46,333.40 C506.13,333.37 506.79,333.77 507.46,333.76 C508.13,333.75 508.79,333.47 509.46,333.37 C510.12,333.27 510.78,333.24 511.45,333.16 C512.11,333.09 512.78,332.98 513.44,332.93 C514.10,332.88 514.76,333.03 515.42,332.89 C516.08,332.74 516.74,332.15 517.40,332.05 C518.06,331.94 518.72,332.35 519.38,332.24 C520.04,332.14 520.69,331.64 521.35,331.40 C522.00,331.17 522.66,330.91 523.31,330.84 C523.96,330.76 524.61,331.13 525.26,330.97 C525.91,330.82 526.88,330.09 527.21,329.91" stroke="#0000ff"/>
<path d="M79.74,91.69 C80.06,91.83 81.03,92.37 81.68,92.50 C82.33,92.63 82.98,92.33 83.63,92.46 C84.28,92.60 84.93,93.10 85.58,93.30 C86.24,93.50 86.89,93.51 87.54,93.64 C88.20,93.76 88.86,94.01 89.51,94.06 C90.17,94.11 90.83,93.82 91.48,93.93 C92.14,94.05 92.80,94.55 93.46,94.77 C94.12,94.98 94.78,95.19 95.44,95.21 C96.10,95.22 96.76,94.76 97.42,94.88 C98.08,94.99 98.74,95.68 99.40,95.90 C100.07,96.11 100.73,96.17 101.39,96.16 C102.05,96.15 102.72,95.77 103.38,95.85 C104.04,95.94 104.70,96.50 105.37,96.67 C106.03,96.85 106.69,96.95 107.36,96.90 C108.02,96.86 108.68,96.35 109.35,96.40 C110.01,96.45 110.67,96.99 111.34,97.20 C112.00,97.40 112.66,97.53 113.33,97.62 C113.99,97.71 114.65,97.77 115.32,97.72 C115.98,97.68 116.65,97.32 117.31,97.33 C117.97,97.34 118.64,97.67 119.30,97.81 C119.96,97.95 120.63,98.11 121.29,98.18 C121.95,98.25 122.62,98.19 123.28,98.25 C123.94,98.30 124.61,98.46 125.27,98.50 C125.93,98.54 126.60,98.46 127.26,98.49 C127.92,98.52 128.58,98.55 129.25,98.67 C129.91,98.79 130.57,99.06 131.23,99.21 C131.89,99.36 132.55,99.46 133.22,99.60 C133.88,99.73 134.54,99.85 135.20,100.03 C135.86,100.21 136.52,100.65 137.18,100.68 C137.84,100.71 138.50,100.21 139.16,100.23 C139.81,100.25 140.47,100.57 141.13,100.80 C141.79,101.04 142.44,101.44 143.10,101.64 C143.76,101.83 144.41,101.96 145.07,101.98 C145.72,102.00 146.38,101.63 147.03,101.75 C147.68,101.86 148.34,102.54 148.99,102.69 C149.64,102.83 150.29,102.42 150.94,102.62 C151.59,102.82 152.24,103.68 152.88,103.87 C153.53,104.07 154.17,103.65 154.82,103.77 C155.46,103.90 156.10,104.41 156.75,104.63 C157.39,104.86 158.03,104.91 158.66,105.10 C159.30,105.28 159.94,105.58 160.57,105.75 C161.20,105.93 161.83,105.94 162.46,106.14 C163.09,106.34 163.72,106.72 164.34,106.97 C164.97,107.22 165.59,107.34 166.21,107.64 C166.82,107.93 167.44,108.43 168.05,108.72 C168.66,109.01 169.27,109.09 169.88,109.37 C170.48,109.65 171.08,110.08 171.68,110.39 C172.28,110.71 172.87,110.94 173.46,111.27 C174.05,111.59 174.63,111.95 175.21,112.34 C175.79,112.73 176.37,113.28 176.94,113.61 C177.51,113.94 178.07,114.02 178.63,114.33 C179.19,114.64 179.74,115.07 180.28,115.47 C180.83,115.86 181.37,116.29 181.90,116.69 C182.44,117.10 182.96,117.48 183.48,117.88 C184.00,118.27 184.52,118.67 185.02,119.07 C185.53,119.47 186.03,119.83 186.53,120.29 C187.02,120.75 187.51,121.38 187.99,121.85 C188.47,122.31 188.95,122.59 189.42,123.07 C189.89,123.56 190.35,124.22 190.81,124.76 C191.27,125.31 191.72,125.86 192.17,126.36 C192.61,126.87 193.06,127.32 193.49,127.81 C193.93,128.30 194.36,128.86 194.79,129.33 C195.22,129.79 195.64,130.12 196.06,130.58 C196.47,131.04 196.89,131.54 197.30,132.07 C197.70,132.60 198.11,133.18 198.51,133.76 C198.91,134.34 199.31,135.01 199.70,135.54 C200.09,136.08 200.48,136.46 200.87,136.97 C201.25,137.49 201.64,138.00 202.01,138.61 C202.39,139.23 202.77,140.07 203.14,140.64 C203.52,141.21 203.89,141.55 204.25,142.05 C204.62,142.55 204.99,143.05 205.35,143.62 C205.71,144.19 206.07,144.87 206.43,145.48 C206.79,146.08 207.14,146.67 207.50,147.23 C207.85,147.80 208.21,148.32 208.56,148.86 C208.91,149.40 209.26,149.89 209.60,150.47 C209.95,151.04 210.29,151.73 210.64,152.30 C210.98,152.87 211.32,153.32 211.66,153.90 C212.00,154.48 212.34,155.19 212.68,155.81 C213.01,156.42 213.35,157.04 213.68,157.59 C214.02,158.14 214.35,158.55 214.68,159.11 C215.01,159.68 215.34,160.37 215.67,160.98 C216.00,161.59 216.32,162.19 216.65,162.77 C216.98,163.36 217.30,163.92 217.62,164.49 C217.95,165.05 218.27,165.59 218.59,166.16 C218.91,166.73 219.23,167.31 219.55,167.91 C219.87,168.50 220.19,169.14 220.51,169.73 C220.82,170.32 221.14,170.85 221.46,171.44 C221.77,172.04 222.09,172.71 222.40,173.31 C222.72,173.91 223.03,174.46 223.34,175.04 C223.66,175.62 223.97,176.20 224.28,176.79 C224.59,177.39 224.91,178.01 225.22,178.60 C225.53,179.19 225.84,179.75 226.15,180.34 C226.46,180.93 226.77,181.54 227.08,182.13 C227.39,182.72 227.70,183.31 228.01,183.90 C228.32,184.50 228.63,185.08 228.94,185.67 C229.25,186.27 229.56,186.86 229.87,187.46 C230.18,188.05 230.49,188.64 230.80,189.23 C231.11,189.82 231.42,190.41 231.74,191.00 C232.05,191.59 232.36,192.19 232.67,192.78 C232.98,193.37 233.29,193.96 233.61,194.55 C233.92,195.14 234.23,195.73 234.55,196.32 C234.86,196.91 235.17,197.50 235.49,198.09 C235.80,198.68 236.12,199.26 236.44,199.85 C236.75,200.44 237.07,201.03 237.39,201.62 C237.71,202.20 238.03,202.79 238.35,203.38 C238.67,203.96 238.99,204.55 239.31,205.13 C239.64,205.72 239.96,206.30 240.28,206.89 C240.61,207.47 240.93,208.05 241.26,208.63 C241.59,209.22 241.92,209.80 242.25,210.38 C242.58,210.96 242.91,211.54 243.24,212.12 C243.58,212.70 243.91,213.28 244.25,213.85 C244.58,214.43 244.92,215.01 245.26,215.58 C245.60,216.16 245.94,216.73 246.28,217.31 C246.62,217.88 246.97,218.45 247.31,219.03 C247.66,219.60 248.01,220.17 248.36,220.74 C248.71,221.31 249.06,221.87 249.41,222.44 C249.76,223.01 250.12,223.57 250.48,224.14 C250.84,224.70 251.19,225.27 251.56,225.83 C251.92,226.39 252.28,226.95 252.65,227.51 C253.01,228.07 253.38,228.62 253.75,229.18 C254.12,229.74 254.49,230.29 254.87,230.84 C255.24,231.40 255.62,231.95 256.00,232.50 C256.38,233.05 256.76,233.60 257.14,234.14 C257.53,234.69 257.91,235.24 258.30,235.78 C258.69,236.32 259.08,236.86 259.48,237.40 C259.87,237.94 260.27,238.48 260.66,239.02 C261.06,239.55 261.46,240.09 261.87,240.62 C262.27,241.15 262.68,241.68 263.09,242.21 C263.49,242.74 263.91,243.27 264.32,243.79 C264.73,244.32 265.15,244.84 265.57,245.36 C265.99,245.88 266.41,246.40 266.83,246.91 C267.26,247.43 267.69,247.94 268.12,248.45 C268.55,248.96 268.98,249.47 269.42,249.98 C269.85,250.48 270.29,250.99 270.73,251.49 C271.18,251.99 271.62,252.49 272.07,252.98 C272.52,253.48 272.97,253.97 273.42,254.46 C273.87,254.95 274.33,255.44 274.79,255.93 C275.25,256.41 275.71,256.89 276.18,257.37 C276.64,257.85 277.11,258.33 277.59,258.80 C278.06,259.27 278.53,259.74 279.01,260.21 C279.49,260.67 279.97,261.14 280.46,261.60 C280.94,262.05 281.43,262.51 281.92,262.96 C282.41,263.42 282.91,263.87 283.40,264.31 C283.90,264.76 284.40,265.20 284.91,265.64 C285.41,266.07 285.92,266.51 286.43,266.94 C286.94,267.37 287.46,267.79 287.98,268.22 C288.49,268.64 289.01,269.06 289.54,269.47 C290.06,269.88 290.59,270.29 291.12,270.70 C291.65,271.10 292.19,271.50 292.73,271.90 C293.27,272.29 293.81,272.68 294.35,273.07 C294.90,273.46 295.45,273.84 296.00,274.22 C296.55,274.59 297.10,274.96 297.66,275.33 C298.22,275.70 298.78,276.06 299.35,276.42 C299.91,276.77 300.48,277.12 301.05,277.47 C301.62,277.81 302.20,278.15 302.78,278.49 C303.36,278.82 303.94,279.15 304.52,279.48 C305.11,279.80 305.69,280.12 306.29,280.43 C306.88,280.74 307.47,281.04 308.07,281.34 C308.66,281.64 309.26,281.94 309.87,282.23 C310.47,282.52 311.07,282.80 311.68,283.08 C312.29,283.35 312.90,283.63 313.51,283.89 C314.12,284.16 314.74,284.42 315.36,284.68 C315.97,284.94 316.59,285.19 317.21,285.44 C317.83,285.69 318.45,285.93 319.08,286.17 C319.70,286.41 320.33,286.64 320.95,286.87 C321.58,287.10 322.21,287.33 322.84,287.55 C323.47,287.77 324.10,287.99 324.74,288.20 C325.37,288.41 326.00,288.62 326.64,288.83 C327.27,289.04 327.91,289.24 328.55,289.44 C329.18,289.64 329.82,289.84 330.46,290.03 C331.10,290.22 331.74,290.41 332.38,290.60 C333.02,290.79 333.67,290.97 334.31,291.16 C334.95,291.34 335.60,291.52 336.24,291.69 C336.88,291.87 337.53,292.05 338.17,292.22 C338.82,292.39 339.47,292.56 340.11,292.73 C340.76,292.90 341.41,293.06 342.05,293.23 C342.70,293.39 343.35,293.56 344.00,293.72 C344.64,293.88 345.29,294.04 345.94,294.20 C346.59,294.35 347.24,294.51 347.89,294.67 C348.54,294.82 349.19,294.98 349.84,295.13 C350.49,295.29 351.14,295.44 351.79,295.59 C352.44,295.74 353.09,295.90 353.74,296.05 C354.39,296.20 355.04,296.35 355.69,296.50 C356.34,296.65 357.00,296.81 357.65,296.96 C358.30,297.11 358.95,297.27 359.59,297.43 C360.24,297.58 360.89,297.74 361.54,297.90 C362.19,298.07 362.84,298.23 363.48,298.40 C364.13,298.57 364.77,298.74 365.42,298.92 C366.06,299.10 366.70,299.28 367.34,299.47 C367.99,299.66 368.63,299.85 369.26,300.05 C369.90,300.25 370.54,300.46 371.17,300.67 C371.80,300.88 372.43,301.10 373.06,301.33 C373.69,301.56 374.31,301.80 374.93,302.04 C375.55,302.29 376.17,302.54 376.79,302.81 C377.40,303.07 378.01,303.35 378.61,303.63 C379.22,303.91 379.82,304.21 380.41,304.51 C381.01,304.82 381.60,305.13 382.18,305.46 C382.76,305.79 383.34,306.13 383.90,306.48 C384.47,306.83 385.03,307.19 385.59,307.57 C386.14,307.94 386.69,308.33 387.23,308.72 C387.77,309.12 388.30,309.52 388.83,309.93 C389.35,310.34 389.87,310.76 390.39,311.18 C390.91,311.60 391.43,312.03 391.94,312.46 C392.45,312.88 392.96,313.32 393.47,313.75 C393.97,314.18 394.48,314.62 394.99,315.06 C395.50,315.49 396.00,315.93 396.51,316.36 C397.02,316.79 397.53,317.22 398.04,317.65 C398.56,318.08 399.07,318.50 399.59,318.92 C400.11,319.34 400.64,319.75 401.17,320.16 C401.70,320.56 402.23,320.96 402.78,321.35 C403.32,321.74 403.87,322.12 404.43,322.49 C404.99,322.85 405.55,323.21 406.13,323.55 C406.71,323.89 407.29,324.21 407.88,324.52 C408.48,324.83 409.08,325.12 409.68,325.40 C410.29,325.67 410.91,325.94 411.53,326.18 C412.15,326.43 412.77,326.67 413.40,326.89 C414.03,327.11 414.67,327.32 415.31,327.51 C415.95,327.71 416.59,327.89 417.23,328.07 C417.88,328.24 418.53,328.40 419.18,328.55 C419.83,328.71 420.48,328.85 421.13,328.99 C421.79,329.12 422.45,329.25 423.10,329.37 C423.76,329.49 424.42,329.60 425.08,329.71 C425.74,329.81 426.40,329.91 427.06,330.01 C427.72,330.11 428.38,330.24 429.04,330.29 C429.70,330.33 430.37,330.22 431.03,330.28 C431.69,330.34 432.36,330.51 433.02,330.64 C433.68,330.78 434.35,331.01 435.01,331.08 C435.67,331.15 436.34,331.02 437.00,331.08 C437.67,331.15 438.33,331.36 438.99,331.45 C439.66,331.53 440.32,331.51 440.99,331.62 C441.65,331.73 442.32,332.02 442.98,332.08 C443.64,332.15 444.31,332.02 444.97,332.03 C445.64,332.04 446.30,332.01 446.97,332.14 C447.63,332.27 448.30,332.77 448.96,332.82 C449.63,332.87 450.29,332.42 450.96,332.44 C451.62,332.46 452.29,332.83 452.95,332.94 C453.62,333.05 454.29,333.08 454.95,333.10 C455.62,333.13 456.28,333.01 456.95,333.08 C457.61,333.14 458.28,333.41 458.95,333.51 C459.61,333.61 460.28,333.65 460.95,333.67 C461.61,333.68 462.28,333.62 462.94,333.61 C463.61,333.61 464.28,333.64 464.94,333.64 C465.61,333.64 466.28,333.52 466.94,333.62 C467.61,333.73 468.28,334.13 468.94,334.27 C469.61,334.41 470.28,334.49 470.95,334.46 C471.61,334.43 472.28,334.11 472.95,334.07 C473.61,334.02 474.28,334.12 474.95,334.19 C475.62,334.26 476.28,334.42 476.95,334.50 C477.62,334.58 478.29,334.62 478.95,334.67 C479.62,334.72 480.29,334.77 480.96,334.79 C481.62,334.80 482.29,334.79 482.96,334.79 C483.63,334.79 484.30,334.78 484.96,334.77 C485.63,334.77 486.30,334.84 486.97,334.77 C487.64,334.71 488.30,334.38 488.97,334.38 C489.64,334.37 490.31,334.64 490.98,334.73 C491.64,334.81 492.31,334.91 492.98,334.89 C493.65,334.87 494.32,334.66 494.98,334.60 C495.65,334.54 496.32,334.54 496.99,334.55 C497.66,334.56 498.32,334.62 498.99,334.64 C499.66,334.67 500.33,334.76 501.00,334.70 C501.66,334.64 502.33,334.27 503.00,334.28 C503.67,334.29 504.33,334.68 505.00,334.74 C505.67,334.80 506.34,334.73 507.01,334.64 C507.67,334.55 508.34,334.30 509.01,334.22 C509.68,334.14 510.34,334.18 511.01,334.14 C511.68,334.10 512.34,334.00 513.01,333.99 C513.68,333.97 514.35,333.98 515.01,334.03 C515.68,334.09 516.35,334.34 517.01,334.29 C517.68,334.24 518.34,333.80 519.01,333.75 C519.68,333.69 520.34,334.04 521.01,333.97 C521.67,333.89 522.34,333.41 523.01,333.27 C523.67,333.14 524.34,333.16 525.00,333.13 C525.67,333.11 526.66,333.12 527.00,333.12" stroke="#000080"/>
<path d="M79.61,106.56 C79.94,106.55 80.93,106.37 81.60,106.48 C82.26,106.59 82.92,107.12 83.58,107.24 C84.25,107.36 84.91,107.10 85.57,107.19 C86.24,107.28 86.90,107.69 87.56,107.76 C88.23,107.82 88.89,107.55 89.55,107.57 C90.22,107.59 90.88,107.70 91.54,107.88 C92.21,108.06 92.87,108.53 93.53,108.65 C94.20,108.77 94.86,108.64 95.52,108.60 C96.19,108.56 96.85,108.37 97.51,108.42 C98.18,108.47 98.84,108.85 99.50,108.92 C100.17,109.00 100.83,108.85 101.50,108.87 C102.16,108.90 102.82,108.93 103.49,109.08 C104.15,109.23 104.81,109.68 105.47,109.77 C106.14,109.86 106.80,109.58 107.46,109.61 C108.13,109.64 108.79,109.88 109.45,109.96 C110.11,110.04 110.78,110.02 111.44,110.09 C112.10,110.16 112.76,110.24 113.43,110.39 C114.09,110.53 114.75,110.86 115.41,110.96 C116.07,111.07 116.74,110.92 117.40,110.99 C118.06,111.07 118.72,111.28 119.38,111.42 C120.04,111.56 120.70,111.74 121.36,111.83 C122.02,111.91 122.68,111.86 123.34,111.92 C124.00,111.99 124.66,112.09 125.32,112.20 C125.98,112.30 126.64,112.31 127.29,112.55 C127.95,112.78 128.61,113.46 129.27,113.61 C129.93,113.76 130.58,113.39 131.24,113.44 C131.89,113.50 132.55,113.73 133.21,113.92 C133.86,114.11 134.52,114.40 135.17,114.59 C135.82,114.77 136.48,114.90 137.13,115.03 C137.78,115.17 138.44,115.22 139.09,115.39 C139.74,115.55 140.39,115.89 141.04,116.02 C141.69,116.15 142.34,116.11 142.99,116.17 C143.64,116.22 144.28,116.15 144.93,116.33 C145.58,116.51 146.22,117.03 146.87,117.25 C147.51,117.47 148.15,117.43 148.80,117.65 C149.44,117.86 150.08,118.39 150.72,118.55 C151.36,118.71 152.00,118.44 152.64,118.62 C153.27,118.79 153.91,119.45 154.54,119.62 C155.18,119.80 155.81,119.49 156.44,119.67 C157.07,119.85 157.70,120.40 158.33,120.68 C158.95,120.96 159.58,121.15 160.20,121.35 C160.83,121.55 161.45,121.54 162.07,121.86 C162.69,122.18 163.30,122.91 163.92,123.28 C164.53,123.65 165.15,123.90 165.76,124.09 C166.37,124.28 166.97,124.14 167.58,124.41 C168.18,124.67 168.78,125.30 169.38,125.69 C169.98,126.09 170.58,126.48 171.17,126.77 C171.76,127.06 172.35,127.18 172.94,127.43 C173.52,127.67 174.10,127.89 174.68,128.24 C175.26,128.58 175.83,129.16 176.40,129.52 C176.97,129.87 177.54,130.01 178.10,130.35 C178.66,130.70 179.22,131.19 179.77,131.59 C180.33,132.00 180.87,132.45 181.42,132.80 C181.96,133.16 182.50,133.33 183.03,133.73 C183.56,134.13 184.09,134.78 184.61,135.22 C185.13,135.66 185.65,135.96 186.16,136.39 C186.67,136.81 187.17,137.33 187.67,137.75 C188.17,138.17 188.67,138.45 189.15,138.92 C189.64,139.39 190.12,140.12 190.60,140.58 C191.08,141.03 191.55,141.20 192.02,141.65 C192.48,142.10 192.94,142.77 193.40,143.29 C193.86,143.82 194.31,144.34 194.75,144.80 C195.20,145.26 195.64,145.51 196.07,146.04 C196.51,146.57 196.94,147.41 197.37,147.97 C197.79,148.53 198.21,148.94 198.63,149.40 C199.05,149.87 199.46,150.21 199.87,150.76 C200.27,151.31 200.68,152.12 201.08,152.70 C201.48,153.28 201.87,153.71 202.26,154.26 C202.65,154.80 203.04,155.42 203.42,155.97 C203.81,156.51 204.19,156.99 204.56,157.52 C204.94,158.04 205.31,158.55 205.68,159.12 C206.05,159.68 206.41,160.34 206.78,160.89 C207.14,161.45 207.50,161.89 207.85,162.44 C208.21,162.98 208.56,163.59 208.91,164.16 C209.26,164.73 209.61,165.29 209.96,165.85 C210.30,166.42 210.64,166.97 210.98,167.57 C211.32,168.17 211.66,168.88 211.99,169.47 C212.33,170.06 212.66,170.53 212.99,171.09 C213.32,171.65 213.65,172.26 213.97,172.84 C214.30,173.41 214.62,173.98 214.94,174.56 C215.27,175.14 215.59,175.73 215.91,176.31 C216.22,176.89 216.54,177.45 216.86,178.06 C217.17,178.67 217.49,179.36 217.80,179.96 C218.11,180.57 218.42,181.11 218.73,181.69 C219.05,182.27 219.35,182.84 219.66,183.43 C219.97,184.01 220.28,184.62 220.59,185.22 C220.89,185.82 221.20,186.44 221.50,187.03 C221.81,187.62 222.11,188.17 222.42,188.76 C222.72,189.34 223.03,189.94 223.33,190.54 C223.63,191.13 223.94,191.74 224.24,192.34 C224.54,192.94 224.85,193.53 225.15,194.13 C225.45,194.73 225.76,195.34 226.06,195.94 C226.36,196.54 226.66,197.13 226.97,197.72 C227.27,198.32 227.57,198.91 227.88,199.50 C228.18,200.09 228.48,200.69 228.79,201.28 C229.09,201.87 229.40,202.47 229.70,203.06 C230.00,203.65 230.31,204.25 230.61,204.84 C230.92,205.44 231.23,206.03 231.53,206.63 C231.84,207.22 232.15,207.81 232.45,208.40 C232.76,209.00 233.07,209.59 233.38,210.18 C233.69,210.77 234.00,211.37 234.31,211.96 C234.62,212.55 234.94,213.14 235.25,213.73 C235.56,214.32 235.88,214.91 236.19,215.50 C236.51,216.09 236.82,216.68 237.14,217.26 C237.46,217.85 237.78,218.44 238.10,219.02 C238.42,219.61 238.74,220.20 239.06,220.78 C239.39,221.37 239.71,221.95 240.04,222.53 C240.36,223.12 240.69,223.70 241.02,224.28 C241.35,224.86 241.68,225.44 242.02,226.02 C242.35,226.60 242.68,227.18 243.02,227.75 C243.36,228.33 243.69,228.91 244.04,229.48 C244.38,230.06 244.72,230.63 245.06,231.20 C245.41,231.78 245.75,232.35 246.10,232.92 C246.45,233.49 246.80,234.06 247.15,234.62 C247.51,235.19 247.86,235.76 248.22,236.32 C248.58,236.89 248.94,237.45 249.30,238.01 C249.66,238.57 250.03,239.13 250.39,239.69 C250.76,240.25 251.13,240.80 251.50,241.36 C251.88,241.91 252.25,242.47 252.63,243.02 C253.00,243.57 253.38,244.12 253.77,244.67 C254.15,245.21 254.53,245.76 254.92,246.30 C255.31,246.85 255.70,247.39 256.09,247.93 C256.49,248.47 256.88,249.01 257.28,249.54 C257.68,250.08 258.08,250.61 258.49,251.15 C258.89,251.68 259.30,252.21 259.71,252.73 C260.12,253.26 260.54,253.79 260.95,254.31 C261.37,254.83 261.79,255.35 262.21,255.87 C262.63,256.39 263.06,256.90 263.49,257.42 C263.91,257.93 264.34,258.44 264.78,258.95 C265.21,259.46 265.65,259.96 266.09,260.46 C266.53,260.97 266.97,261.47 267.42,261.97 C267.86,262.46 268.31,262.96 268.76,263.45 C269.21,263.94 269.67,264.43 270.12,264.92 C270.58,265.41 271.04,265.89 271.51,266.37 C271.97,266.85 272.44,267.33 272.91,267.81 C273.37,268.28 273.85,268.76 274.32,269.22 C274.80,269.69 275.28,270.16 275.76,270.62 C276.24,271.09 276.73,271.54 277.21,272.00 C277.70,272.46 278.19,272.91 278.69,273.36 C279.18,273.81 279.68,274.26 280.18,274.70 C280.68,275.14 281.18,275.58 281.69,276.01 C282.20,276.45 282.71,276.88 283.22,277.31 C283.74,277.74 284.25,278.16 284.77,278.58 C285.29,279.00 285.81,279.42 286.34,279.83 C286.87,280.24 287.40,280.65 287.93,281.05 C288.46,281.45 289.00,281.85 289.53,282.25 C290.07,282.64 290.62,283.03 291.16,283.42 C291.71,283.81 292.26,284.19 292.81,284.56 C293.36,284.94 293.91,285.31 294.47,285.68 C295.03,286.05 295.59,286.41 296.16,286.77 C296.72,287.12 297.29,287.48 297.86,287.82 C298.43,288.17 299.00,288.51 299.58,288.85 C300.16,289.19 300.74,289.52 301.32,289.84 C301.91,290.17 302.49,290.49 303.08,290.80 C303.67,291.11 304.27,291.42 304.86,291.73 C305.46,292.03 306.06,292.32 306.66,292.61 C307.26,292.90 307.86,293.19 308.47,293.47 C309.08,293.74 309.69,294.02 310.30,294.28 C310.92,294.55 311.53,294.80 312.15,295.06 C312.77,295.31 313.39,295.56 314.01,295.80 C314.64,296.04 315.26,296.27 315.89,296.50 C316.52,296.73 317.15,296.95 317.78,297.17 C318.41,297.39 319.04,297.60 319.68,297.81 C320.32,298.02 320.95,298.22 321.59,298.41 C322.23,298.61 322.87,298.80 323.51,298.99 C324.15,299.18 324.80,299.36 325.44,299.53 C326.08,299.71 326.73,299.88 327.38,300.05 C328.02,300.22 328.67,300.38 329.32,300.54 C329.97,300.70 330.62,300.86 331.27,301.01 C331.92,301.16 332.57,301.31 333.22,301.45 C333.88,301.60 334.53,301.74 335.18,301.87 C335.84,302.01 336.49,302.14 337.15,302.27 C337.80,302.40 338.46,302.53 339.12,302.65 C339.77,302.78 340.43,302.90 341.09,303.01 C341.74,303.13 342.40,303.25 343.06,303.36 C343.72,303.47 344.38,303.58 345.04,303.69 C345.70,303.80 346.36,303.90 347.02,304.00 C347.68,304.11 348.34,304.21 349.00,304.31 C349.66,304.40 350.32,304.50 350.98,304.60 C351.64,304.69 352.31,304.79 352.97,304.88 C353.63,304.97 354.29,305.06 354.95,305.15 C355.62,305.24 356.28,305.33 356.94,305.42 C357.60,305.51 358.26,305.60 358.93,305.69 C359.59,305.78 360.25,305.87 360.91,305.96 C361.57,306.06 362.23,306.15 362.89,306.25 C363.56,306.35 364.22,306.45 364.88,306.56 C365.54,306.66 366.19,306.77 366.85,306.88 C367.51,307.00 368.17,307.11 368.83,307.24 C369.48,307.36 370.14,307.49 370.79,307.62 C371.45,307.76 372.10,307.90 372.75,308.04 C373.40,308.19 374.05,308.35 374.70,308.51 C375.35,308.67 376.00,308.84 376.64,309.02 C377.28,309.20 377.92,309.39 378.56,309.59 C379.20,309.79 379.84,310.00 380.47,310.21 C381.10,310.43 381.73,310.66 382.35,310.90 C382.97,311.14 383.59,311.40 384.20,311.66 C384.82,311.92 385.43,312.20 386.03,312.49 C386.63,312.77 387.23,313.07 387.82,313.38 C388.42,313.69 389.00,314.01 389.58,314.34 C390.17,314.67 390.74,315.01 391.31,315.35 C391.89,315.70 392.45,316.05 393.02,316.41 C393.58,316.77 394.14,317.13 394.69,317.51 C395.25,317.88 395.80,318.26 396.35,318.64 C396.90,319.02 397.44,319.41 397.98,319.80 C398.52,320.19 399.06,320.58 399.60,320.98 C400.14,321.38 400.67,321.78 401.20,322.18 C401.74,322.59 402.27,322.99 402.81,323.39 C403.34,323.79 403.88,324.18 404.42,324.57 C404.97,324.96 405.52,325.34 406.08,325.70 C406.64,326.07 407.20,326.43 407.78,326.76 C408.36,327.09 408.95,327.41 409.55,327.70 C410.15,327.99 410.76,328.26 411.38,328.51 C412.00,328.76 412.63,328.99 413.26,329.20 C413.90,329.42 414.54,329.61 415.18,329.78 C415.83,329.96 416.48,330.11 417.13,330.25 C417.78,330.40 418.44,330.52 419.10,330.64 C419.76,330.75 420.42,330.85 421.08,330.94 C421.74,331.03 422.41,331.11 423.07,331.18 C423.73,331.25 424.40,331.31 425.07,331.36 C425.73,331.42 426.40,331.46 427.06,331.51 C427.73,331.55 428.40,331.54 429.07,331.62 C429.73,331.70 430.40,331.98 431.07,331.98 C431.74,331.99 432.40,331.63 433.07,331.65 C433.74,331.68 434.40,332.13 435.07,332.14 C435.74,332.14 436.41,331.67 437.07,331.68 C437.74,331.68 438.41,332.02 439.08,332.16 C439.74,332.29 440.41,332.48 441.08,332.48 C441.74,332.47 442.41,332.19 443.08,332.14 C443.74,332.10 444.41,332.12 445.08,332.23 C445.74,332.34 446.41,332.70 447.08,332.80 C447.74,332.90 448.41,332.77 449.08,332.84 C449.74,332.90 450.41,333.21 451.08,333.20 C451.74,333.19 452.41,332.82 453.08,332.77 C453.74,332.72 454.41,332.87 455.08,332.90 C455.74,332.94 456.41,332.91 457.08,332.98 C457.74,333.04 458.41,333.26 459.08,333.31 C459.74,333.35 460.41,333.17 461.07,333.25 C461.74,333.34 462.41,333.74 463.07,333.79 C463.74,333.84 464.41,333.53 465.07,333.56 C465.74,333.59 466.41,333.86 467.07,333.95 C467.74,334.05 468.41,334.13 469.07,334.13 C469.74,334.13 470.41,333.89 471.07,333.95 C471.74,334.02 472.41,334.36 473.07,334.50 C473.74,334.65 474.41,334.82 475.08,334.83 C475.74,334.83 476.41,334.54 477.08,334.52 C477.74,334.50 478.41,334.68 479.08,334.71 C479.75,334.74 480.41,334.62 481.08,334.71 C481.75,334.79 482.42,335.14 483.08,335.22 C483.75,335.30 484.42,335.18 485.09,335.21 C485.75,335.23 486.42,335.39 487.09,335.36 C487.76,335.32 488.43,335.07 489.09,335.01 C489.76,334.95 490.43,335.03 491.10,335.00 C491.76,334.97 492.43,334.85 493.10,334.83 C493.77,334.81 494.44,334.78 495.11,334.89 C495.77,335.00 496.44,335.45 497.11,335.51 C497.78,335.57 498.45,335.31 499.11,335.25 C499.78,335.18 500.45,335.19 501.12,335.13 C501.79,335.07 502.45,334.84 503.12,334.89 C503.79,334.93 504.46,335.41 505.13,335.38 C505.79,335.34 506.46,334.74 507.13,334.67 C507.80,334.61 508.46,334.98 509.13,335.01 C509.80,335.04 510.47,334.90 511.13,334.87 C511.80,334.84 512.47,334.86 513.13,334.83 C513.80,334.80 514.47,334.75 515.13,334.69 C515.80,334.63 516.46,334.55 517.13,334.47 C517.79,334.39 518.46,334.29 519.12,334.20 C519.79,334.10 520.45,333.94 521.12,333.90 C521.78,333.85 522.44,334.04 523.11,333.92 C523.77,333.80 524.43,333.34 525.10,333.19 C525.76,333.04 526.75,333.05 527.08,333.02" stroke="#8000ff"/>
<path d="M416.01,329.63 C416.51,329.66 418.02,329.74 419.02,329.80 C420.02,329.86 421.02,329.93 422.02,329.99 C423.03,330.06 424.03,330.13 425.03,330.21 C426.03,330.28 427.03,330.36 428.03,330.44 C429.03,330.51 430.03,330.60 431.03,330.68 C432.03,330.76 433.03,330.85 434.03,330.94 C435.03,331.03 436.03,331.11 437.03,331.21 C438.03,331.30 439.03,331.39 440.03,331.48 C441.02,331.57 442.02,331.67 443.02,331.76 C444.02,331.86 445.02,331.95 446.02,332.05 C447.02,332.14 448.02,332.24 449.02,332.34 C450.02,332.43 451.01,332.53 452.01,332.62 C453.01,332.72 454.01,332.81 455.01,332.91 C456.01,333.00 457.01,333.09 458.01,333.18 C459.01,333.28 460.01,333.37 461.01,333.45 C462.01,333.54 463.01,333.63 464.01,333.72 C465.01,333.80 466.01,333.89 467.01,333.97 C468.01,334.05 469.01,334.13 470.01,334.20 C471.01,334.28 472.01,334.35 473.01,334.42 C474.01,334.49 475.01,334.56 476.01,334.63 C477.02,334.69 478.02,334.75 479.02,334.81 C480.02,334.86 481.02,334.92 482.03,334.96 C483.03,335.01 484.03,335.06 485.03,335.10 C486.04,335.14 487.04,335.17 488.04,335.20 C489.04,335.23 490.05,335.26 491.05,335.28 C492.05,335.30 493.06,335.32 494.06,335.32 C495.06,335.33 496.07,335.34 497.07,335.33 C498.08,335.33 499.08,335.32 500.08,335.31 C501.09,335.29 502.09,335.27 503.09,335.24 C504.10,335.21 505.10,335.18 506.10,335.13 C507.10,335.09 508.11,335.04 509.11,334.98 C510.11,334.93 511.11,334.86 512.11,334.79 C513.11,334.72 514.11,334.63 515.11,334.55 C516.11,334.46 517.11,334.36 518.11,334.25 C519.11,334.15 520.10,334.03 521.10,333.91 C522.10,333.78 523.09,333.65 524.08,333.51 C525.08,333.37 526.56,333.13 527.06,333.06" stroke="#8000ff" stroke-width="2.6"/></g>
<rect x="79.30" y="13.80" width="447.80" height="329.10" fill="none" stroke="#000" stroke-width="1.5"/>
<g stroke="#000" stroke-width="1.4"><line x1="72.30" y1="342.90" x2="79.30" y2="342.90"/>
<line x1="75.30" y1="309.99" x2="79.30" y2="309.99"/>
<line x1="72.30" y1="277.08" x2="79.30" y2="277.08"/>
<line x1="75.30" y1="244.17" x2="79.30" y2="244.17"/>
<line x1="72.30" y1="211.26" x2="79.30" y2="211.26"/>
<line x1="75.30" y1="178.35" x2="79.30" y2="178.35"/>
<line x1="72.30" y1="145.44" x2="79.30" y2="145.44"/>
<line x1="75.30" y1="112.53" x2="79.30" y2="112.53"/>
<line x1="72.30" y1="79.62" x2="79.30" y2="79.62"/>
<line x1="75.30" y1="46.71" x2="79.30" y2="46.71"/>
<line x1="72.30" y1="13.80" x2="79.30" y2="13.80"/>
<line x1="107.30" y1="342.90" x2="107.30" y2="350.40"/>
<line x1="142.30" y1="342.90" x2="142.30" y2="346.90"/>
<line x1="177.30" y1="342.90" x2="177.30" y2="350.40"/>
<line x1="212.30" y1="342.90" x2="212.30" y2="346.90"/>
<line x1="247.30" y1="342.90" x2="247.30" y2="350.40"/>
<line x1="282.30" y1="342.90" x2="282.30" y2="346.90"/>
<line x1="317.30" y1="342.90" x2="317.30" y2="350.40"/>
<line x1="352.30" y1="342.90" x2="352.30" y2="346.90"/>
<line x1="387.30" y1="342.90" x2="387.30" y2="350.40"/>
<line x1="422.30" y1="342.90" x2="422.30" y2="346.90"/>
<line x1="457.30" y1="342.90" x2="457.30" y2="350.40"/>
<line x1="492.30" y1="342.90" x2="492.30" y2="346.90"/>
<line x1="527.30" y1="342.90" x2="527.30" y2="350.40"/></g>
<g font-size="17.0" fill="#000" stroke="#000" stroke-width="0.3"><text transform="translate(67.80,348.70) scale(1.010,1)" text-anchor="end">0</text>
<text transform="translate(67.80,282.88) scale(1.010,1)" text-anchor="end">20</text>
<text transform="translate(67.80,217.06) scale(1.010,1)" text-anchor="end">40</text>
<text transform="translate(67.80,151.24) scale(1.010,1)" text-anchor="end">60</text>
<text transform="translate(67.80,85.42) scale(1.010,1)" text-anchor="end">80</text>
<text transform="translate(67.80,19.60) scale(1.010,1)" text-anchor="end">100</text><text transform="translate(107.30,368.70) scale(1.040,1)" text-anchor="middle">800</text>
<text transform="translate(177.30,368.70) scale(1.040,1)" text-anchor="middle">700</text>
<text transform="translate(247.30,368.70) scale(1.040,1)" text-anchor="middle">600</text>
<text transform="translate(317.30,368.70) scale(1.040,1)" text-anchor="middle">500</text>
<text transform="translate(387.30,368.70) scale(1.040,1)" text-anchor="middle">400</text>
<text transform="translate(457.30,368.70) scale(1.040,1)" text-anchor="middle">300</text>
<text transform="translate(527.30,368.70) scale(1.040,1)" text-anchor="middle">200</text></g>
<text x="219.3" y="402.2" font-size="20.4" textLength="168" lengthAdjust="spacingAndGlyphs" stroke="#000" stroke-width="0.3">Wavelength (nm)</text>
<text transform="translate(24.6,267) rotate(-90)" font-size="19.8" textLength="149.8" lengthAdjust="spacingAndGlyphs" stroke="#000" stroke-width="0.3">Reflectivity (%)</text>
<line x1="101" y1="181" x2="101" y2="318" stroke="#000" stroke-width="1.7"/>
<path d="M98,315.5 L104,315.5 L101,326 Z" fill="#000"/>
<g font-size="12.6" fill="#000" stroke="#000" stroke-width="0.2"><line x1="111.2" y1="198.00" x2="146.2" y2="198.00" stroke="#000000" stroke-width="1.8"/>
<text transform="translate(149.30,202.60) scale(1.090,1)">Undoped</text>
<line x1="111.2" y1="216.62" x2="146.2" y2="216.62" stroke="#ff0000" stroke-width="1.8"/>
<text transform="translate(149.30,221.33) scale(1.090,1)">1&#37; Pr</text>
<line x1="111.2" y1="235.24" x2="146.2" y2="235.24" stroke="#0000ff" stroke-width="1.8"/>
<text transform="translate(149.30,240.06) scale(1.090,1)">2&#37; Pr</text>
<line x1="111.2" y1="253.86" x2="146.2" y2="253.86" stroke="#ff00ff" stroke-width="1.8"/>
<text transform="translate(149.30,258.79) scale(1.090,1)">3&#37; Pr</text>
<line x1="111.2" y1="272.48" x2="146.2" y2="272.48" stroke="#008000" stroke-width="1.8"/>
<text transform="translate(149.30,277.52) scale(1.090,1)">4&#37; Pr</text>
<line x1="111.2" y1="291.10" x2="146.2" y2="291.10" stroke="#000080" stroke-width="1.8"/>
<text transform="translate(149.30,296.25) scale(1.090,1)">5&#37; Pr</text>
<line x1="111.2" y1="309.72" x2="146.2" y2="309.72" stroke="#8000ff" stroke-width="1.8"/>
<text transform="translate(149.30,314.98) scale(1.090,1)">6&#37; Pr</text></g>
</svg>
</body></html>
